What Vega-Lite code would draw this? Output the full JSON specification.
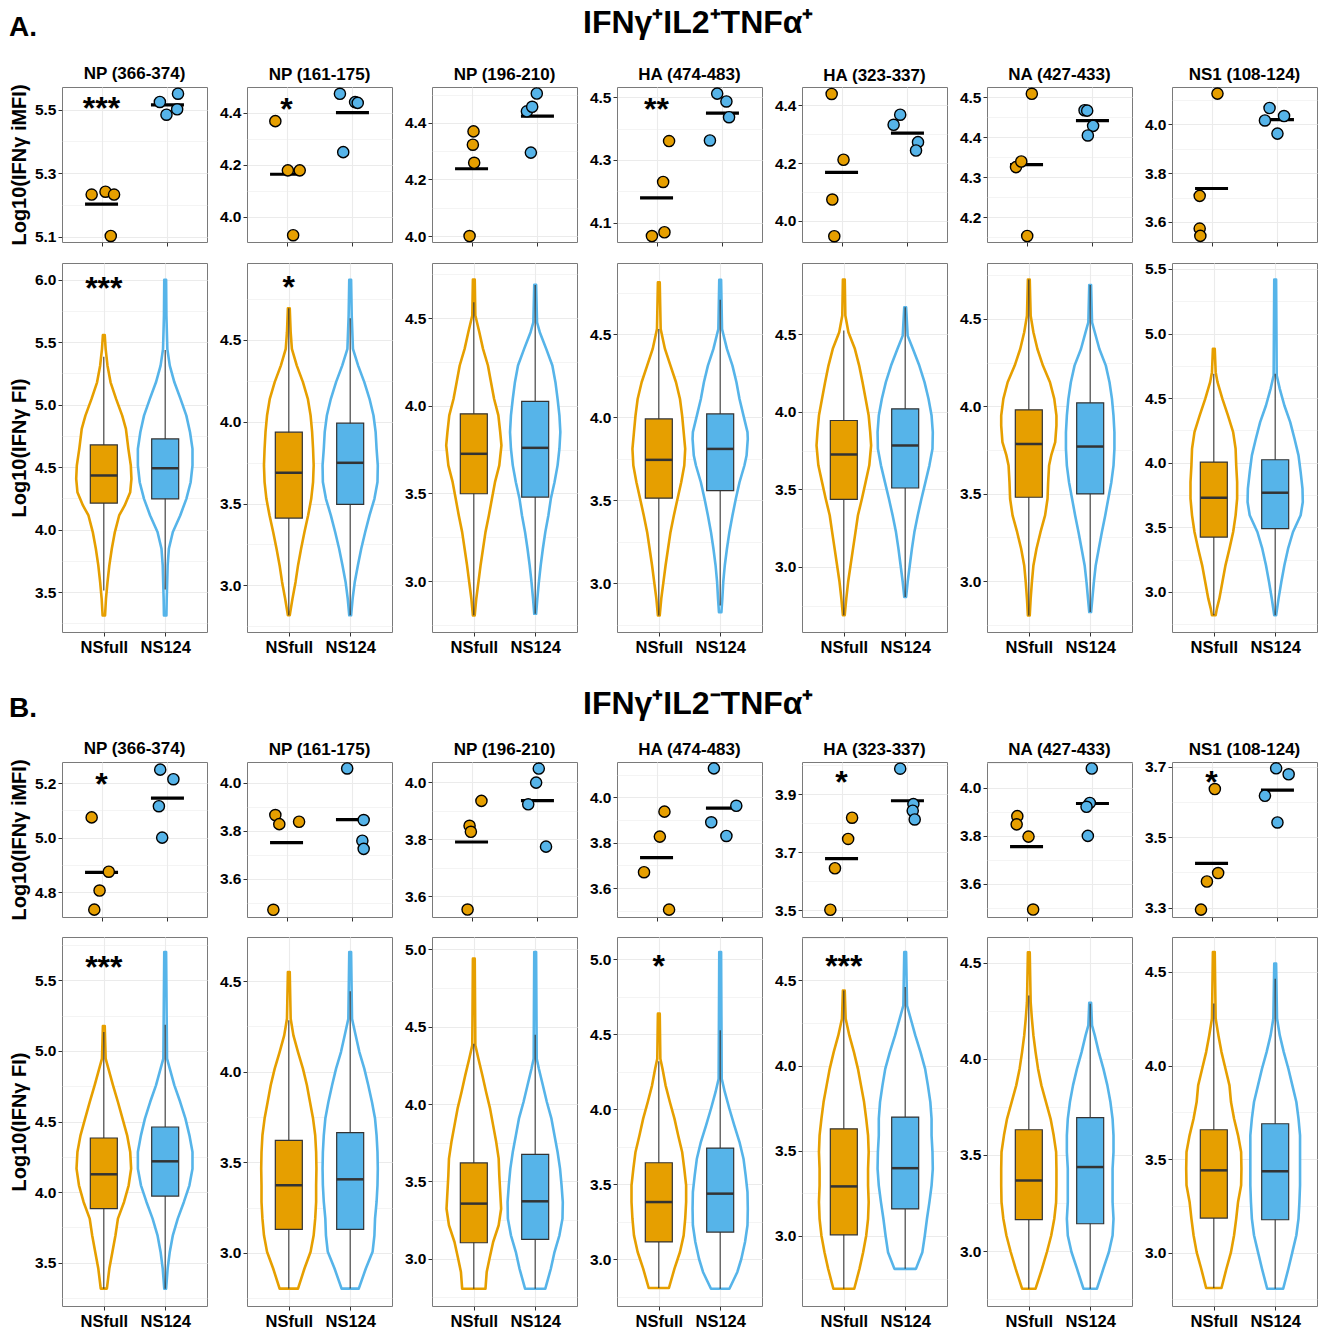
{
"$schema":"https://vega.github.io/schema/vega-lite/v6.json",
"background":"white",
"padding":{"left":8,"top":7,"right":5,"bottom":4},
"config":{
 "font":"Liberation Sans",
 "view":{"stroke":"#7a7a7a","strokeWidth":1},
 "axis":{"labelFontWeight":"bold","labelFontSize":15.5,"labelColor":"black","labelPadding":2,"tickColor":"#333333","tickSize":4,"domain":false,"gridColor":"#EBEBEB","titleFontSize":20,"titleFontWeight":"bold","titleColor":"black","titlePadding":5},
 "axisX":{"labelFontSize":16.5,"labelPadding":3,"gridWidth":1.1},
 "title":{"fontSize":17,"fontWeight":"bold","color":"black","offset":1}
},
"datasets":{
"pts":[
{"p":"A1","g":"NSfull","v":5.233,"j":-0.15},{"p":"A1","g":"NSfull","v":5.242,"j":0.06},{"p":"A1","g":"NSfull","v":5.233,"j":0.19},{"p":"A1","g":"NSfull","v":5.103,"j":0.14},
{"p":"A1","g":"NS124","v":5.524,"j":-0.115},{"p":"A1","g":"NS124","v":5.55,"j":0.16},{"p":"A1","g":"NS124","v":5.484,"j":-0.015},{"p":"A1","g":"NS124","v":5.501,"j":0.147},
{"p":"A2","g":"NSfull","v":4.368,"j":-0.17},{"p":"A2","g":"NSfull","v":4.179,"j":0.02},{"p":"A2","g":"NSfull","v":4.179,"j":0.2},{"p":"A2","g":"NSfull","v":3.93,"j":0.1},
{"p":"A2","g":"NS124","v":4.473,"j":-0.19},{"p":"A2","g":"NS124","v":4.249,"j":-0.14},{"p":"A2","g":"NS124","v":4.441,"j":0.04},{"p":"A2","g":"NS124","v":4.438,"j":0.08},
{"p":"A3","g":"NSfull","v":4.37,"j":0.03},{"p":"A3","g":"NSfull","v":4.323,"j":0.02},{"p":"A3","g":"NSfull","v":4.259,"j":0.04},{"p":"A3","g":"NSfull","v":4.0,"j":-0.03},
{"p":"A3","g":"NS124","v":4.504,"j":-0.01},{"p":"A3","g":"NS124","v":4.441,"j":-0.16},{"p":"A3","g":"NS124","v":4.457,"j":-0.08},{"p":"A3","g":"NS124","v":4.295,"j":-0.1},
{"p":"A4","g":"NSfull","v":4.36,"j":0.19},{"p":"A4","g":"NSfull","v":4.23,"j":0.1},{"p":"A4","g":"NSfull","v":4.07,"j":0.12},{"p":"A4","g":"NSfull","v":4.058,"j":-0.07},
{"p":"A4","g":"NS124","v":4.511,"j":-0.08},{"p":"A4","g":"NS124","v":4.486,"j":0.06},{"p":"A4","g":"NS124","v":4.436,"j":0.1},{"p":"A4","g":"NS124","v":4.362,"j":-0.19},
{"p":"A5","g":"NSfull","v":4.44,"j":-0.15},{"p":"A5","g":"NSfull","v":4.212,"j":0.03},{"p":"A5","g":"NSfull","v":4.074,"j":-0.14},{"p":"A5","g":"NSfull","v":3.947,"j":-0.11},
{"p":"A5","g":"NS124","v":4.368,"j":-0.11},{"p":"A5","g":"NS124","v":4.333,"j":-0.21},{"p":"A5","g":"NS124","v":4.273,"j":0.16},{"p":"A5","g":"NS124","v":4.244,"j":0.13},
{"p":"A6","g":"NSfull","v":4.508,"j":0.08},{"p":"A6","g":"NSfull","v":4.325,"j":-0.16},{"p":"A6","g":"NSfull","v":4.339,"j":-0.08},{"p":"A6","g":"NSfull","v":4.153,"j":0.01},
{"p":"A6","g":"NS124","v":4.467,"j":-0.12},{"p":"A6","g":"NS124","v":4.466,"j":-0.08},{"p":"A6","g":"NS124","v":4.428,"j":0.01},{"p":"A6","g":"NS124","v":4.404,"j":-0.07},
{"p":"A7","g":"NSfull","v":4.126,"j":0.09},{"p":"A7","g":"NSfull","v":3.707,"j":-0.18},{"p":"A7","g":"NSfull","v":3.573,"j":-0.18},{"p":"A7","g":"NSfull","v":3.543,"j":-0.17},
{"p":"A7","g":"NS124","v":4.067,"j":-0.12},{"p":"A7","g":"NS124","v":4.034,"j":0.1},{"p":"A7","g":"NS124","v":4.016,"j":-0.19},{"p":"A7","g":"NS124","v":3.962,"j":0.0},
{"p":"B1","g":"NSfull","v":5.074,"j":-0.15},{"p":"B1","g":"NSfull","v":4.875,"j":0.11},{"p":"B1","g":"NSfull","v":4.806,"j":-0.03},{"p":"B1","g":"NSfull","v":4.736,"j":-0.11},
{"p":"B1","g":"NS124","v":5.249,"j":-0.11},{"p":"B1","g":"NS124","v":5.214,"j":0.09},{"p":"B1","g":"NS124","v":5.115,"j":-0.13},{"p":"B1","g":"NS124","v":5.0,"j":-0.08},
{"p":"B2","g":"NSfull","v":3.866,"j":-0.17},{"p":"B2","g":"NSfull","v":3.828,"j":-0.11},{"p":"B2","g":"NSfull","v":3.838,"j":0.19},{"p":"B2","g":"NSfull","v":3.471,"j":-0.2},
{"p":"B2","g":"NS124","v":4.06,"j":-0.08},{"p":"B2","g":"NS124","v":3.845,"j":0.17},{"p":"B2","g":"NS124","v":3.759,"j":0.15},{"p":"B2","g":"NS124","v":3.725,"j":0.17},
{"p":"B3","g":"NSfull","v":3.934,"j":0.15},{"p":"B3","g":"NSfull","v":3.847,"j":-0.03},{"p":"B3","g":"NSfull","v":3.826,"j":-0.01},{"p":"B3","g":"NSfull","v":3.554,"j":-0.06},
{"p":"B3","g":"NS124","v":4.047,"j":0.02},{"p":"B3","g":"NS124","v":3.998,"j":-0.02},{"p":"B3","g":"NS124","v":3.922,"j":-0.14},{"p":"B3","g":"NS124","v":3.774,"j":0.13},
{"p":"B4","g":"NSfull","v":3.937,"j":0.12},{"p":"B4","g":"NSfull","v":3.827,"j":0.05},{"p":"B4","g":"NSfull","v":3.67,"j":-0.19},{"p":"B4","g":"NSfull","v":3.505,"j":0.19},
{"p":"B4","g":"NS124","v":4.128,"j":-0.13},{"p":"B4","g":"NS124","v":3.963,"j":0.21},{"p":"B4","g":"NS124","v":3.89,"j":-0.17},{"p":"B4","g":"NS124","v":3.83,"j":0.06},
{"p":"B5","g":"NSfull","v":3.819,"j":0.16},{"p":"B5","g":"NSfull","v":3.746,"j":0.1},{"p":"B5","g":"NSfull","v":3.645,"j":-0.1},{"p":"B5","g":"NSfull","v":3.502,"j":-0.17},
{"p":"B5","g":"NS124","v":3.988,"j":-0.11},{"p":"B5","g":"NS124","v":3.866,"j":0.09},{"p":"B5","g":"NS124","v":3.843,"j":0.08},{"p":"B5","g":"NS124","v":3.813,"j":0.11},
{"p":"B6","g":"NSfull","v":3.881,"j":-0.14},{"p":"B6","g":"NSfull","v":3.847,"j":-0.15},{"p":"B6","g":"NSfull","v":3.796,"j":0.03},{"p":"B6","g":"NSfull","v":3.493,"j":0.1},
{"p":"B6","g":"NS124","v":4.079,"j":-0.01},{"p":"B6","g":"NS124","v":3.936,"j":-0.04},{"p":"B6","g":"NS124","v":3.92,"j":-0.09},{"p":"B6","g":"NS124","v":3.799,"j":-0.07},
{"p":"B7","g":"NSfull","v":3.637,"j":0.05},{"p":"B7","g":"NSfull","v":3.398,"j":0.1},{"p":"B7","g":"NSfull","v":3.374,"j":-0.07},{"p":"B7","g":"NSfull","v":3.294,"j":-0.16},
{"p":"B7","g":"NS124","v":3.696,"j":-0.02},{"p":"B7","g":"NS124","v":3.679,"j":0.17},{"p":"B7","g":"NS124","v":3.618,"j":-0.19},{"p":"B7","g":"NS124","v":3.542,"j":0.0}
],
"sig":[
{"p":"A1","g":"NSfull","v":5.529,"t":"***"},{"p":"A2","g":"NSfull","v":4.447,"t":"*"},{"p":"A4","g":"NSfull","v":4.489,"t":"**"},
{"p":"A1v","g":"NSfull","v":6.0,"t":"***"},{"p":"A2v","g":"NSfull","v":4.87,"t":"*"},
{"p":"B1","g":"NSfull","v":5.224,"t":"*"},{"p":"B5","g":"NSfull","v":3.971,"t":"*"},{"p":"B7","g":"NSfull","v":3.681,"t":"*"},
{"p":"B1v","g":"NSfull","v":5.653,"t":"***"},{"p":"B4v","g":"NSfull","v":5.009,"t":"*"},{"p":"B5v","g":"NSfull","v":4.631,"t":"***"}
],
"box":[
{"p":"A1","g":"NSfull","k":"wh","v":3.513,"v2":5.384},{"p":"A1","g":"NSfull","k":"box","v":4.212,"v2":4.678},{"p":"A1","g":"NSfull","k":"med","v":4.433},
{"p":"A1","g":"NS124","k":"wh","v":3.521,"v2":5.438},{"p":"A1","g":"NS124","k":"box","v":4.246,"v2":4.726},{"p":"A1","g":"NS124","k":"med","v":4.491},
{"p":"A2","g":"NSfull","k":"wh","v":2.817,"v2":4.693},{"p":"A2","g":"NSfull","k":"box","v":3.411,"v2":3.936},{"p":"A2","g":"NSfull","k":"med","v":3.688},
{"p":"A2","g":"NS124","k":"wh","v":2.817,"v2":4.632},{"p":"A2","g":"NS124","k":"box","v":3.495,"v2":3.991},{"p":"A2","g":"NS124","k":"med","v":3.749},
{"p":"A3","g":"NSfull","k":"wh","v":2.804,"v2":4.591},{"p":"A3","g":"NSfull","k":"box","v":3.498,"v2":3.954},{"p":"A3","g":"NSfull","k":"med","v":3.726},
{"p":"A3","g":"NS124","k":"wh","v":2.813,"v2":4.69},{"p":"A3","g":"NS124","k":"box","v":3.479,"v2":4.025},{"p":"A3","g":"NS124","k":"med","v":3.76},
{"p":"A4","g":"NSfull","k":"wh","v":2.805,"v2":4.532},{"p":"A4","g":"NSfull","k":"box","v":3.512,"v2":3.99},{"p":"A4","g":"NSfull","k":"med","v":3.743},
{"p":"A4","g":"NS124","k":"wh","v":2.865,"v2":4.709},{"p":"A4","g":"NS124","k":"box","v":3.558,"v2":4.02},{"p":"A4","g":"NS124","k":"med","v":3.809},
{"p":"A5","g":"NSfull","k":"wh","v":2.689,"v2":4.524},{"p":"A5","g":"NSfull","k":"box","v":3.436,"v2":3.944},{"p":"A5","g":"NSfull","k":"med","v":3.725},
{"p":"A5","g":"NS124","k":"wh","v":2.807,"v2":4.674},{"p":"A5","g":"NS124","k":"box","v":3.509,"v2":4.019},{"p":"A5","g":"NS124","k":"med","v":3.783},
{"p":"A6","g":"NSfull","k":"wh","v":2.804,"v2":4.725},{"p":"A6","g":"NSfull","k":"box","v":3.48,"v2":3.98},{"p":"A6","g":"NSfull","k":"med","v":3.785},
{"p":"A6","g":"NS124","k":"wh","v":2.823,"v2":4.694},{"p":"A6","g":"NS124","k":"box","v":3.499,"v2":4.02},{"p":"A6","g":"NS124","k":"med","v":3.77},
{"p":"A7","g":"NSfull","k":"wh","v":2.82,"v2":4.688},{"p":"A7","g":"NSfull","k":"box","v":3.425,"v2":4.005},{"p":"A7","g":"NSfull","k":"med","v":3.729},
{"p":"A7","g":"NS124","k":"wh","v":2.82,"v2":4.688},{"p":"A7","g":"NS124","k":"box","v":3.49,"v2":4.023},{"p":"A7","g":"NS124","k":"med","v":3.768},
{"p":"B1","g":"NSfull","k":"wh","v":3.316,"v2":5.134},{"p":"B1","g":"NSfull","k":"box","v":3.883,"v2":4.383},{"p":"B1","g":"NSfull","k":"med","v":4.126},
{"p":"B1","g":"NS124","k":"wh","v":3.316,"v2":5.186},{"p":"B1","g":"NS124","k":"box","v":3.972,"v2":4.461},{"p":"B1","g":"NS124","k":"med","v":4.218},
{"p":"B2","g":"NSfull","k":"wh","v":2.803,"v2":4.283},{"p":"B2","g":"NSfull","k":"box","v":3.13,"v2":3.621},{"p":"B2","g":"NSfull","k":"med","v":3.373},
{"p":"B2","g":"NS124","k":"wh","v":2.803,"v2":4.443},{"p":"B2","g":"NS124","k":"box","v":3.13,"v2":3.664},{"p":"B2","g":"NS124","k":"med","v":3.406},
{"p":"B3","g":"NSfull","k":"wh","v":2.806,"v2":4.39},{"p":"B3","g":"NSfull","k":"box","v":3.103,"v2":3.619},{"p":"B3","g":"NSfull","k":"med","v":3.356},
{"p":"B3","g":"NS124","k":"wh","v":2.806,"v2":4.448},{"p":"B3","g":"NS124","k":"box","v":3.125,"v2":3.675},{"p":"B3","g":"NS124","k":"med","v":3.371},
{"p":"B4","g":"NSfull","k":"wh","v":2.809,"v2":4.32},{"p":"B4","g":"NSfull","k":"box","v":3.116,"v2":3.644},{"p":"B4","g":"NSfull","k":"med","v":3.382},
{"p":"B4","g":"NS124","k":"wh","v":2.804,"v2":4.527},{"p":"B4","g":"NS124","k":"box","v":3.182,"v2":3.742},{"p":"B4","g":"NS124","k":"med","v":3.438},
{"p":"B5","g":"NSfull","k":"wh","v":2.69,"v2":4.441},{"p":"B5","g":"NSfull","k":"box","v":3.007,"v2":3.629},{"p":"B5","g":"NSfull","k":"med","v":3.291},
{"p":"B5","g":"NS124","k":"wh","v":2.807,"v2":4.461},{"p":"B5","g":"NS124","k":"box","v":3.159,"v2":3.698},{"p":"B5","g":"NS124","k":"med","v":3.398},
{"p":"B6","g":"NSfull","k":"wh","v":2.804,"v2":4.33},{"p":"B6","g":"NSfull","k":"box","v":3.163,"v2":3.631},{"p":"B6","g":"NSfull","k":"med","v":3.367},
{"p":"B6","g":"NS124","k":"wh","v":2.804,"v2":4.287},{"p":"B6","g":"NS124","k":"box","v":3.142,"v2":3.694},{"p":"B6","g":"NS124","k":"med","v":3.437},
{"p":"B7","g":"NSfull","k":"wh","v":2.811,"v2":4.331},{"p":"B7","g":"NSfull","k":"box","v":3.185,"v2":3.657},{"p":"B7","g":"NSfull","k":"med","v":3.44},
{"p":"B7","g":"NS124","k":"wh","v":2.807,"v2":4.464},{"p":"B7","g":"NS124","k":"box","v":3.176,"v2":3.689},{"p":"B7","g":"NS124","k":"med","v":3.435}
],
"vio":[
{"p":"A1","g":"NSfull","v":5.557,"w":0.015},{"p":"A1","g":"NSfull","v":5.445,"w":0.03},{"p":"A1","g":"NSfull","v":5.312,"w":0.06},{"p":"A1","g":"NSfull","v":5.179,"w":0.11},{"p":"A1","g":"NSfull","v":5.046,"w":0.2},{"p":"A1","g":"NSfull","v":4.912,"w":0.3},{"p":"A1","g":"NSfull","v":4.806,"w":0.36},{"p":"A1","g":"NSfull","v":4.646,"w":0.4},{"p":"A1","g":"NSfull","v":4.513,"w":0.44},{"p":"A1","g":"NSfull","v":4.406,"w":0.45},{"p":"A1","g":"NSfull","v":4.299,"w":0.43},{"p":"A1","g":"NSfull","v":4.193,"w":0.34},{"p":"A1","g":"NSfull","v":4.113,"w":0.25},{"p":"A1","g":"NSfull","v":3.98,"w":0.18},{"p":"A1","g":"NSfull","v":3.846,"w":0.13},{"p":"A1","g":"NSfull","v":3.713,"w":0.09},{"p":"A1","g":"NSfull","v":3.579,"w":0.06},{"p":"A1","g":"NSfull","v":3.446,"w":0.035},{"p":"A1","g":"NSfull","v":3.313,"w":0.02},
{"p":"A1","g":"NS124","v":6.0,"w":0.015},{"p":"A1","g":"NS124","v":5.712,"w":0.02},{"p":"A1","g":"NS124","v":5.445,"w":0.035},{"p":"A1","g":"NS124","v":5.312,"w":0.075},{"p":"A1","g":"NS124","v":5.179,"w":0.15},{"p":"A1","g":"NS124","v":5.046,"w":0.25},{"p":"A1","g":"NS124","v":4.912,"w":0.345},{"p":"A1","g":"NS124","v":4.779,"w":0.405},{"p":"A1","g":"NS124","v":4.646,"w":0.445},{"p":"A1","g":"NS124","v":4.513,"w":0.445},{"p":"A1","g":"NS124","v":4.379,"w":0.415},{"p":"A1","g":"NS124","v":4.246,"w":0.345},{"p":"A1","g":"NS124","v":4.113,"w":0.245},{"p":"A1","g":"NS124","v":3.98,"w":0.125},{"p":"A1","g":"NS124","v":3.846,"w":0.06},{"p":"A1","g":"NS124","v":3.713,"w":0.04},{"p":"A1","g":"NS124","v":3.446,"w":0.025},{"p":"A1","g":"NS124","v":3.313,"w":0.02},
{"p":"A2","g":"NSfull","v":4.693,"w":0.015},{"p":"A2","g":"NSfull","v":4.547,"w":0.03},{"p":"A2","g":"NSfull","v":4.445,"w":0.05},{"p":"A2","g":"NSfull","v":4.343,"w":0.13},{"p":"A2","g":"NSfull","v":4.242,"w":0.23},{"p":"A2","g":"NSfull","v":4.14,"w":0.31},{"p":"A2","g":"NSfull","v":4.038,"w":0.355},{"p":"A2","g":"NSfull","v":3.936,"w":0.38},{"p":"A2","g":"NSfull","v":3.835,"w":0.395},{"p":"A2","g":"NSfull","v":3.733,"w":0.405},{"p":"A2","g":"NSfull","v":3.631,"w":0.395},{"p":"A2","g":"NSfull","v":3.529,"w":0.365},{"p":"A2","g":"NSfull","v":3.428,"w":0.315},{"p":"A2","g":"NSfull","v":3.326,"w":0.255},{"p":"A2","g":"NSfull","v":3.224,"w":0.2},{"p":"A2","g":"NSfull","v":3.122,"w":0.15},{"p":"A2","g":"NSfull","v":3.021,"w":0.11},{"p":"A2","g":"NSfull","v":2.919,"w":0.06},{"p":"A2","g":"NSfull","v":2.817,"w":0.015},
{"p":"A2","g":"NS124","v":4.868,"w":0.015},{"p":"A2","g":"NS124","v":4.649,"w":0.025},{"p":"A2","g":"NS124","v":4.445,"w":0.045},{"p":"A2","g":"NS124","v":4.343,"w":0.13},{"p":"A2","g":"NS124","v":4.242,"w":0.23},{"p":"A2","g":"NS124","v":4.14,"w":0.315},{"p":"A2","g":"NS124","v":4.038,"w":0.38},{"p":"A2","g":"NS124","v":3.936,"w":0.415},{"p":"A2","g":"NS124","v":3.835,"w":0.43},{"p":"A2","g":"NS124","v":3.733,"w":0.45},{"p":"A2","g":"NS124","v":3.631,"w":0.445},{"p":"A2","g":"NS124","v":3.529,"w":0.395},{"p":"A2","g":"NS124","v":3.428,"w":0.315},{"p":"A2","g":"NS124","v":3.326,"w":0.245},{"p":"A2","g":"NS124","v":3.224,"w":0.18},{"p":"A2","g":"NS124","v":3.122,"w":0.125},{"p":"A2","g":"NS124","v":3.021,"w":0.075},{"p":"A2","g":"NS124","v":2.919,"w":0.04},{"p":"A2","g":"NS124","v":2.817,"w":0.015},
{"p":"A3","g":"NSfull","v":4.721,"w":0.015},{"p":"A3","g":"NSfull","v":4.515,"w":0.025},{"p":"A3","g":"NSfull","v":4.42,"w":0.09},{"p":"A3","g":"NSfull","v":4.325,"w":0.15},{"p":"A3","g":"NSfull","v":4.23,"w":0.23},{"p":"A3","g":"NSfull","v":4.135,"w":0.28},{"p":"A3","g":"NSfull","v":4.04,"w":0.33},{"p":"A3","g":"NSfull","v":3.945,"w":0.4},{"p":"A3","g":"NSfull","v":3.85,"w":0.43},{"p":"A3","g":"NSfull","v":3.774,"w":0.45},{"p":"A3","g":"NSfull","v":3.66,"w":0.415},{"p":"A3","g":"NSfull","v":3.564,"w":0.345},{"p":"A3","g":"NSfull","v":3.469,"w":0.295},{"p":"A3","g":"NSfull","v":3.374,"w":0.245},{"p":"A3","g":"NSfull","v":3.279,"w":0.19},{"p":"A3","g":"NSfull","v":3.184,"w":0.15},{"p":"A3","g":"NSfull","v":3.089,"w":0.11},{"p":"A3","g":"NSfull","v":2.994,"w":0.075},{"p":"A3","g":"NSfull","v":2.899,"w":0.04},{"p":"A3","g":"NSfull","v":2.804,"w":0.015},
{"p":"A3","g":"NS124","v":4.69,"w":0.015},{"p":"A3","g":"NS124","v":4.477,"w":0.03},{"p":"A3","g":"NS124","v":4.42,"w":0.075},{"p":"A3","g":"NS124","v":4.325,"w":0.18},{"p":"A3","g":"NS124","v":4.23,"w":0.28},{"p":"A3","g":"NS124","v":4.135,"w":0.33},{"p":"A3","g":"NS124","v":4.04,"w":0.365},{"p":"A3","g":"NS124","v":3.945,"w":0.395},{"p":"A3","g":"NS124","v":3.85,"w":0.41},{"p":"A3","g":"NS124","v":3.755,"w":0.395},{"p":"A3","g":"NS124","v":3.66,"w":0.365},{"p":"A3","g":"NS124","v":3.564,"w":0.315},{"p":"A3","g":"NS124","v":3.469,"w":0.255},{"p":"A3","g":"NS124","v":3.374,"w":0.215},{"p":"A3","g":"NS124","v":3.279,"w":0.165},{"p":"A3","g":"NS124","v":3.184,"w":0.125},{"p":"A3","g":"NS124","v":3.089,"w":0.09},{"p":"A3","g":"NS124","v":2.994,"w":0.06},{"p":"A3","g":"NS124","v":2.899,"w":0.035},{"p":"A3","g":"NS124","v":2.813,"w":0.015},
{"p":"A4","g":"NSfull","v":4.813,"w":0.015},{"p":"A4","g":"NSfull","v":4.532,"w":0.03},{"p":"A4","g":"NSfull","v":4.412,"w":0.1},{"p":"A4","g":"NSfull","v":4.311,"w":0.19},{"p":"A4","g":"NSfull","v":4.211,"w":0.28},{"p":"A4","g":"NSfull","v":4.11,"w":0.345},{"p":"A4","g":"NSfull","v":4.01,"w":0.38},{"p":"A4","g":"NSfull","v":3.91,"w":0.405},{"p":"A4","g":"NSfull","v":3.809,"w":0.43},{"p":"A4","g":"NSfull","v":3.709,"w":0.415},{"p":"A4","g":"NSfull","v":3.608,"w":0.365},{"p":"A4","g":"NSfull","v":3.508,"w":0.305},{"p":"A4","g":"NSfull","v":3.408,"w":0.245},{"p":"A4","g":"NSfull","v":3.307,"w":0.19},{"p":"A4","g":"NSfull","v":3.207,"w":0.15},{"p":"A4","g":"NSfull","v":3.106,"w":0.11},{"p":"A4","g":"NSfull","v":3.006,"w":0.075},{"p":"A4","g":"NSfull","v":2.906,"w":0.04},{"p":"A4","g":"NSfull","v":2.805,"w":0.015},
{"p":"A4","g":"NS124","v":4.829,"w":0.015},{"p":"A4","g":"NS124","v":4.532,"w":0.03},{"p":"A4","g":"NS124","v":4.412,"w":0.11},{"p":"A4","g":"NS124","v":4.311,"w":0.2},{"p":"A4","g":"NS124","v":4.211,"w":0.265},{"p":"A4","g":"NS124","v":4.11,"w":0.315},{"p":"A4","g":"NS124","v":4.01,"w":0.38},{"p":"A4","g":"NS124","v":3.91,"w":0.445},{"p":"A4","g":"NS124","v":3.869,"w":0.45},{"p":"A4","g":"NS124","v":3.769,"w":0.43},{"p":"A4","g":"NS124","v":3.709,"w":0.395},{"p":"A4","g":"NS124","v":3.608,"w":0.315},{"p":"A4","g":"NS124","v":3.508,"w":0.255},{"p":"A4","g":"NS124","v":3.408,"w":0.2},{"p":"A4","g":"NS124","v":3.307,"w":0.15},{"p":"A4","g":"NS124","v":3.207,"w":0.11},{"p":"A4","g":"NS124","v":3.106,"w":0.075},{"p":"A4","g":"NS124","v":3.006,"w":0.05},{"p":"A4","g":"NS124","v":2.906,"w":0.035},{"p":"A4","g":"NS124","v":2.825,"w":0.02},
{"p":"A5","g":"NSfull","v":4.852,"w":0.015},{"p":"A5","g":"NSfull","v":4.62,"w":0.025},{"p":"A5","g":"NSfull","v":4.513,"w":0.075},{"p":"A5","g":"NSfull","v":4.406,"w":0.18},{"p":"A5","g":"NSfull","v":4.298,"w":0.25},{"p":"A5","g":"NSfull","v":4.191,"w":0.305},{"p":"A5","g":"NSfull","v":4.084,"w":0.355},{"p":"A5","g":"NSfull","v":3.976,"w":0.405},{"p":"A5","g":"NSfull","v":3.869,"w":0.43},{"p":"A5","g":"NSfull","v":3.783,"w":0.445},{"p":"A5","g":"NSfull","v":3.655,"w":0.415},{"p":"A5","g":"NSfull","v":3.547,"w":0.355},{"p":"A5","g":"NSfull","v":3.44,"w":0.295},{"p":"A5","g":"NSfull","v":3.333,"w":0.23},{"p":"A5","g":"NSfull","v":3.225,"w":0.19},{"p":"A5","g":"NSfull","v":3.118,"w":0.15},{"p":"A5","g":"NSfull","v":3.011,"w":0.11},{"p":"A5","g":"NSfull","v":2.903,"w":0.07},{"p":"A5","g":"NSfull","v":2.796,"w":0.04},{"p":"A5","g":"NSfull","v":2.689,"w":0.015},
{"p":"A5","g":"NS124","v":4.674,"w":0.015},{"p":"A5","g":"NS124","v":4.491,"w":0.04},{"p":"A5","g":"NS124","v":4.406,"w":0.125},{"p":"A5","g":"NS124","v":4.298,"w":0.23},{"p":"A5","g":"NS124","v":4.191,"w":0.315},{"p":"A5","g":"NS124","v":4.084,"w":0.38},{"p":"A5","g":"NS124","v":3.976,"w":0.43},{"p":"A5","g":"NS124","v":3.869,"w":0.45},{"p":"A5","g":"NS124","v":3.762,"w":0.445},{"p":"A5","g":"NS124","v":3.655,"w":0.395},{"p":"A5","g":"NS124","v":3.547,"w":0.33},{"p":"A5","g":"NS124","v":3.44,"w":0.265},{"p":"A5","g":"NS124","v":3.333,"w":0.205},{"p":"A5","g":"NS124","v":3.225,"w":0.15},{"p":"A5","g":"NS124","v":3.118,"w":0.11},{"p":"A5","g":"NS124","v":3.011,"w":0.075},{"p":"A5","g":"NS124","v":2.903,"w":0.04},{"p":"A5","g":"NS124","v":2.807,"w":0.015},
{"p":"A6","g":"NSfull","v":4.725,"w":0.015},{"p":"A6","g":"NSfull","v":4.519,"w":0.03},{"p":"A6","g":"NSfull","v":4.424,"w":0.075},{"p":"A6","g":"NSfull","v":4.328,"w":0.14},{"p":"A6","g":"NSfull","v":4.233,"w":0.23},{"p":"A6","g":"NSfull","v":4.138,"w":0.345},{"p":"A6","g":"NSfull","v":4.043,"w":0.415},{"p":"A6","g":"NSfull","v":3.947,"w":0.45},{"p":"A6","g":"NSfull","v":3.89,"w":0.45},{"p":"A6","g":"NSfull","v":3.795,"w":0.43},{"p":"A6","g":"NSfull","v":3.719,"w":0.365},{"p":"A6","g":"NSfull","v":3.661,"w":0.33},{"p":"A6","g":"NSfull","v":3.566,"w":0.315},{"p":"A6","g":"NSfull","v":3.471,"w":0.305},{"p":"A6","g":"NSfull","v":3.376,"w":0.265},{"p":"A6","g":"NSfull","v":3.28,"w":0.19},{"p":"A6","g":"NSfull","v":3.185,"w":0.125},{"p":"A6","g":"NSfull","v":3.09,"w":0.075},{"p":"A6","g":"NSfull","v":2.994,"w":0.05},{"p":"A6","g":"NSfull","v":2.899,"w":0.03},{"p":"A6","g":"NSfull","v":2.804,"w":0.015},
{"p":"A6","g":"NS124","v":4.694,"w":0.015},{"p":"A6","g":"NS124","v":4.481,"w":0.03},{"p":"A6","g":"NS124","v":4.424,"w":0.075},{"p":"A6","g":"NS124","v":4.328,"w":0.15},{"p":"A6","g":"NS124","v":4.233,"w":0.255},{"p":"A6","g":"NS124","v":4.138,"w":0.315},{"p":"A6","g":"NS124","v":4.043,"w":0.355},{"p":"A6","g":"NS124","v":3.947,"w":0.38},{"p":"A6","g":"NS124","v":3.852,"w":0.395},{"p":"A6","g":"NS124","v":3.757,"w":0.395},{"p":"A6","g":"NS124","v":3.661,"w":0.38},{"p":"A6","g":"NS124","v":3.566,"w":0.345},{"p":"A6","g":"NS124","v":3.471,"w":0.295},{"p":"A6","g":"NS124","v":3.376,"w":0.245},{"p":"A6","g":"NS124","v":3.28,"w":0.19},{"p":"A6","g":"NS124","v":3.185,"w":0.14},{"p":"A6","g":"NS124","v":3.09,"w":0.09},{"p":"A6","g":"NS124","v":2.994,"w":0.06},{"p":"A6","g":"NS124","v":2.899,"w":0.035},{"p":"A6","g":"NS124","v":2.823,"w":0.015},
{"p":"A7","g":"NSfull","v":4.881,"w":0.015},{"p":"A7","g":"NSfull","v":4.701,"w":0.03},{"p":"A7","g":"NSfull","v":4.624,"w":0.06},{"p":"A7","g":"NSfull","v":4.495,"w":0.14},{"p":"A7","g":"NSfull","v":4.366,"w":0.23},{"p":"A7","g":"NSfull","v":4.237,"w":0.315},{"p":"A7","g":"NSfull","v":4.108,"w":0.355},{"p":"A7","g":"NSfull","v":3.979,"w":0.365},{"p":"A7","g":"NSfull","v":3.851,"w":0.38},{"p":"A7","g":"NSfull","v":3.722,"w":0.38},{"p":"A7","g":"NSfull","v":3.593,"w":0.355},{"p":"A7","g":"NSfull","v":3.464,"w":0.315},{"p":"A7","g":"NSfull","v":3.335,"w":0.255},{"p":"A7","g":"NSfull","v":3.206,"w":0.19},{"p":"A7","g":"NSfull","v":3.077,"w":0.14},{"p":"A7","g":"NSfull","v":2.948,"w":0.09},{"p":"A7","g":"NSfull","v":2.871,"w":0.05},{"p":"A7","g":"NSfull","v":2.82,"w":0.03},
{"p":"A7","g":"NS124","v":5.418,"w":0.015},{"p":"A7","g":"NS124","v":4.675,"w":0.025},{"p":"A7","g":"NS124","v":4.572,"w":0.075},{"p":"A7","g":"NS124","v":4.443,"w":0.15},{"p":"A7","g":"NS124","v":4.314,"w":0.245},{"p":"A7","g":"NS124","v":4.186,"w":0.315},{"p":"A7","g":"NS124","v":4.057,"w":0.38},{"p":"A7","g":"NS124","v":3.928,"w":0.415},{"p":"A7","g":"NS124","v":3.799,"w":0.445},{"p":"A7","g":"NS124","v":3.696,"w":0.45},{"p":"A7","g":"NS124","v":3.593,"w":0.415},{"p":"A7","g":"NS124","v":3.464,"w":0.29},{"p":"A7","g":"NS124","v":3.335,"w":0.21},{"p":"A7","g":"NS124","v":3.206,"w":0.15},{"p":"A7","g":"NS124","v":3.077,"w":0.1},{"p":"A7","g":"NS124","v":2.948,"w":0.055},{"p":"A7","g":"NS124","v":2.82,"w":0.015},
{"p":"B1","g":"NSfull","v":5.177,"w":0.015},{"p":"B1","g":"NSfull","v":4.945,"w":0.03},{"p":"B1","g":"NSfull","v":4.874,"w":0.075},{"p":"B1","g":"NSfull","v":4.756,"w":0.15},{"p":"B1","g":"NSfull","v":4.638,"w":0.23},{"p":"B1","g":"NSfull","v":4.52,"w":0.305},{"p":"B1","g":"NSfull","v":4.402,"w":0.38},{"p":"B1","g":"NSfull","v":4.284,"w":0.43},{"p":"B1","g":"NSfull","v":4.166,"w":0.445},{"p":"B1","g":"NSfull","v":4.048,"w":0.405},{"p":"B1","g":"NSfull","v":3.93,"w":0.33},{"p":"B1","g":"NSfull","v":3.812,"w":0.23},{"p":"B1","g":"NSfull","v":3.694,"w":0.19},{"p":"B1","g":"NSfull","v":3.576,"w":0.14},{"p":"B1","g":"NSfull","v":3.458,"w":0.09},{"p":"B1","g":"NSfull","v":3.316,"w":0.05},
{"p":"B1","g":"NS124","v":5.701,"w":0.015},{"p":"B1","g":"NS124","v":4.945,"w":0.03},{"p":"B1","g":"NS124","v":4.874,"w":0.075},{"p":"B1","g":"NS124","v":4.756,"w":0.15},{"p":"B1","g":"NS124","v":4.638,"w":0.245},{"p":"B1","g":"NS124","v":4.52,"w":0.33},{"p":"B1","g":"NS124","v":4.402,"w":0.395},{"p":"B1","g":"NS124","v":4.284,"w":0.445},{"p":"B1","g":"NS124","v":4.166,"w":0.445},{"p":"B1","g":"NS124","v":4.048,"w":0.395},{"p":"B1","g":"NS124","v":3.93,"w":0.305},{"p":"B1","g":"NS124","v":3.812,"w":0.205},{"p":"B1","g":"NS124","v":3.694,"w":0.125},{"p":"B1","g":"NS124","v":3.576,"w":0.075},{"p":"B1","g":"NS124","v":3.458,"w":0.04},{"p":"B1","g":"NS124","v":3.316,"w":0.015},
{"p":"B2","g":"NSfull","v":4.55,"w":0.015},{"p":"B2","g":"NSfull","v":4.292,"w":0.03},{"p":"B2","g":"NSfull","v":4.2,"w":0.075},{"p":"B2","g":"NSfull","v":4.108,"w":0.15},{"p":"B2","g":"NSfull","v":4.017,"w":0.23},{"p":"B2","g":"NSfull","v":3.925,"w":0.295},{"p":"B2","g":"NSfull","v":3.833,"w":0.345},{"p":"B2","g":"NSfull","v":3.741,"w":0.395},{"p":"B2","g":"NSfull","v":3.649,"w":0.43},{"p":"B2","g":"NSfull","v":3.557,"w":0.445},{"p":"B2","g":"NSfull","v":3.465,"w":0.45},{"p":"B2","g":"NSfull","v":3.373,"w":0.445},{"p":"B2","g":"NSfull","v":3.281,"w":0.445},{"p":"B2","g":"NSfull","v":3.189,"w":0.43},{"p":"B2","g":"NSfull","v":3.097,"w":0.405},{"p":"B2","g":"NSfull","v":3.006,"w":0.355},{"p":"B2","g":"NSfull","v":2.914,"w":0.255},{"p":"B2","g":"NSfull","v":2.803,"w":0.15},
{"p":"B2","g":"NS124","v":4.66,"w":0.015},{"p":"B2","g":"NS124","v":4.292,"w":0.03},{"p":"B2","g":"NS124","v":4.2,"w":0.09},{"p":"B2","g":"NS124","v":4.108,"w":0.15},{"p":"B2","g":"NS124","v":4.017,"w":0.23},{"p":"B2","g":"NS124","v":3.925,"w":0.295},{"p":"B2","g":"NS124","v":3.833,"w":0.355},{"p":"B2","g":"NS124","v":3.741,"w":0.405},{"p":"B2","g":"NS124","v":3.649,"w":0.43},{"p":"B2","g":"NS124","v":3.557,"w":0.445},{"p":"B2","g":"NS124","v":3.465,"w":0.45},{"p":"B2","g":"NS124","v":3.373,"w":0.445},{"p":"B2","g":"NS124","v":3.281,"w":0.43},{"p":"B2","g":"NS124","v":3.189,"w":0.405},{"p":"B2","g":"NS124","v":3.097,"w":0.395},{"p":"B2","g":"NS124","v":3.006,"w":0.365},{"p":"B2","g":"NS124","v":2.914,"w":0.255},{"p":"B2","g":"NS124","v":2.803,"w":0.14},
{"p":"B3","g":"NSfull","v":4.94,"w":0.015},{"p":"B3","g":"NSfull","v":4.379,"w":0.025},{"p":"B3","g":"NSfull","v":4.293,"w":0.075},{"p":"B3","g":"NSfull","v":4.185,"w":0.14},{"p":"B3","g":"NSfull","v":4.078,"w":0.2},{"p":"B3","g":"NSfull","v":3.97,"w":0.265},{"p":"B3","g":"NSfull","v":3.862,"w":0.315},{"p":"B3","g":"NSfull","v":3.754,"w":0.365},{"p":"B3","g":"NSfull","v":3.647,"w":0.405},{"p":"B3","g":"NSfull","v":3.539,"w":0.415},{"p":"B3","g":"NSfull","v":3.431,"w":0.43},{"p":"B3","g":"NSfull","v":3.323,"w":0.445},{"p":"B3","g":"NSfull","v":3.216,"w":0.405},{"p":"B3","g":"NSfull","v":3.108,"w":0.315},{"p":"B3","g":"NSfull","v":3.0,"w":0.255},{"p":"B3","g":"NSfull","v":2.914,"w":0.21},{"p":"B3","g":"NSfull","v":2.806,"w":0.19},
{"p":"B3","g":"NS124","v":4.983,"w":0.015},{"p":"B3","g":"NS124","v":4.293,"w":0.025},{"p":"B3","g":"NS124","v":4.228,"w":0.06},{"p":"B3","g":"NS124","v":4.121,"w":0.125},{"p":"B3","g":"NS124","v":4.013,"w":0.19},{"p":"B3","g":"NS124","v":3.905,"w":0.265},{"p":"B3","g":"NS124","v":3.797,"w":0.315},{"p":"B3","g":"NS124","v":3.69,"w":0.365},{"p":"B3","g":"NS124","v":3.582,"w":0.405},{"p":"B3","g":"NS124","v":3.474,"w":0.43},{"p":"B3","g":"NS124","v":3.366,"w":0.45},{"p":"B3","g":"NS124","v":3.259,"w":0.445},{"p":"B3","g":"NS124","v":3.151,"w":0.395},{"p":"B3","g":"NS124","v":3.043,"w":0.315},{"p":"B3","g":"NS124","v":2.935,"w":0.255},{"p":"B3","g":"NS124","v":2.806,"w":0.165},
{"p":"B4","g":"NSfull","v":4.638,"w":0.015},{"p":"B4","g":"NSfull","v":4.338,"w":0.025},{"p":"B4","g":"NSfull","v":4.271,"w":0.06},{"p":"B4","g":"NSfull","v":4.16,"w":0.11},{"p":"B4","g":"NSfull","v":4.049,"w":0.18},{"p":"B4","g":"NSfull","v":3.938,"w":0.255},{"p":"B4","g":"NSfull","v":3.827,"w":0.315},{"p":"B4","g":"NSfull","v":3.716,"w":0.38},{"p":"B4","g":"NSfull","v":3.604,"w":0.415},{"p":"B4","g":"NSfull","v":3.493,"w":0.445},{"p":"B4","g":"NSfull","v":3.382,"w":0.445},{"p":"B4","g":"NSfull","v":3.271,"w":0.43},{"p":"B4","g":"NSfull","v":3.16,"w":0.405},{"p":"B4","g":"NSfull","v":3.049,"w":0.345},{"p":"B4","g":"NSfull","v":2.938,"w":0.255},{"p":"B4","g":"NSfull","v":2.809,"w":0.165},
{"p":"B4","g":"NS124","v":5.049,"w":0.015},{"p":"B4","g":"NS124","v":4.204,"w":0.025},{"p":"B4","g":"NS124","v":4.116,"w":0.075},{"p":"B4","g":"NS124","v":4.004,"w":0.15},{"p":"B4","g":"NS124","v":3.893,"w":0.23},{"p":"B4","g":"NS124","v":3.782,"w":0.315},{"p":"B4","g":"NS124","v":3.671,"w":0.38},{"p":"B4","g":"NS124","v":3.56,"w":0.415},{"p":"B4","g":"NS124","v":3.449,"w":0.445},{"p":"B4","g":"NS124","v":3.338,"w":0.45},{"p":"B4","g":"NS124","v":3.227,"w":0.445},{"p":"B4","g":"NS124","v":3.116,"w":0.405},{"p":"B4","g":"NS124","v":3.004,"w":0.345},{"p":"B4","g":"NS124","v":2.916,"w":0.28},{"p":"B4","g":"NS124","v":2.804,"w":0.15},
{"p":"B5","g":"NSfull","v":4.441,"w":0.015},{"p":"B5","g":"NSfull","v":4.275,"w":0.03},{"p":"B5","g":"NSfull","v":4.177,"w":0.09},{"p":"B5","g":"NSfull","v":4.079,"w":0.165},{"p":"B5","g":"NSfull","v":3.981,"w":0.23},{"p":"B5","g":"NSfull","v":3.884,"w":0.28},{"p":"B5","g":"NSfull","v":3.786,"w":0.33},{"p":"B5","g":"NSfull","v":3.688,"w":0.365},{"p":"B5","g":"NSfull","v":3.59,"w":0.395},{"p":"B5","g":"NSfull","v":3.492,"w":0.405},{"p":"B5","g":"NSfull","v":3.394,"w":0.395},{"p":"B5","g":"NSfull","v":3.296,"w":0.395},{"p":"B5","g":"NSfull","v":3.199,"w":0.405},{"p":"B5","g":"NSfull","v":3.101,"w":0.395},{"p":"B5","g":"NSfull","v":3.003,"w":0.365},{"p":"B5","g":"NSfull","v":2.905,"w":0.315},{"p":"B5","g":"NSfull","v":2.807,"w":0.255},{"p":"B5","g":"NSfull","v":2.69,"w":0.17},
{"p":"B5","g":"NS124","v":4.666,"w":0.015},{"p":"B5","g":"NS124","v":4.353,"w":0.03},{"p":"B5","g":"NS124","v":4.275,"w":0.09},{"p":"B5","g":"NS124","v":4.177,"w":0.165},{"p":"B5","g":"NS124","v":4.079,"w":0.25},{"p":"B5","g":"NS124","v":3.981,"w":0.325},{"p":"B5","g":"NS124","v":3.884,"w":0.37},{"p":"B5","g":"NS124","v":3.786,"w":0.41},{"p":"B5","g":"NS124","v":3.688,"w":0.43},{"p":"B5","g":"NS124","v":3.59,"w":0.43},{"p":"B5","g":"NS124","v":3.492,"w":0.445},{"p":"B5","g":"NS124","v":3.394,"w":0.45},{"p":"B5","g":"NS124","v":3.296,"w":0.43},{"p":"B5","g":"NS124","v":3.199,"w":0.395},{"p":"B5","g":"NS124","v":3.101,"w":0.355},{"p":"B5","g":"NS124","v":3.003,"w":0.32},{"p":"B5","g":"NS124","v":2.905,"w":0.28},{"p":"B5","g":"NS124","v":2.807,"w":0.175},
{"p":"B6","g":"NSfull","v":4.555,"w":0.015},{"p":"B6","g":"NSfull","v":4.295,"w":0.03},{"p":"B6","g":"NSfull","v":4.209,"w":0.05},{"p":"B6","g":"NSfull","v":4.122,"w":0.075},{"p":"B6","g":"NSfull","v":4.035,"w":0.11},{"p":"B6","g":"NSfull","v":3.949,"w":0.15},{"p":"B6","g":"NSfull","v":3.862,"w":0.205},{"p":"B6","g":"NSfull","v":3.775,"w":0.28},{"p":"B6","g":"NSfull","v":3.688,"w":0.355},{"p":"B6","g":"NSfull","v":3.602,"w":0.405},{"p":"B6","g":"NSfull","v":3.515,"w":0.445},{"p":"B6","g":"NSfull","v":3.428,"w":0.45},{"p":"B6","g":"NSfull","v":3.341,"w":0.45},{"p":"B6","g":"NSfull","v":3.255,"w":0.445},{"p":"B6","g":"NSfull","v":3.168,"w":0.415},{"p":"B6","g":"NSfull","v":3.081,"w":0.365},{"p":"B6","g":"NSfull","v":2.995,"w":0.295},{"p":"B6","g":"NSfull","v":2.908,"w":0.215},{"p":"B6","g":"NSfull","v":2.804,"w":0.11},
{"p":"B6","g":"NS124","v":4.292,"w":0.015},{"p":"B6","g":"NS124","v":4.174,"w":0.03},{"p":"B6","g":"NS124","v":4.122,"w":0.075},{"p":"B6","g":"NS124","v":4.035,"w":0.14},{"p":"B6","g":"NS124","v":3.949,"w":0.215},{"p":"B6","g":"NS124","v":3.862,"w":0.28},{"p":"B6","g":"NS124","v":3.775,"w":0.33},{"p":"B6","g":"NS124","v":3.688,"w":0.365},{"p":"B6","g":"NS124","v":3.602,"w":0.38},{"p":"B6","g":"NS124","v":3.515,"w":0.38},{"p":"B6","g":"NS124","v":3.428,"w":0.365},{"p":"B6","g":"NS124","v":3.341,"w":0.365},{"p":"B6","g":"NS124","v":3.255,"w":0.365},{"p":"B6","g":"NS124","v":3.168,"w":0.38},{"p":"B6","g":"NS124","v":3.081,"w":0.365},{"p":"B6","g":"NS124","v":2.995,"w":0.305},{"p":"B6","g":"NS124","v":2.908,"w":0.215},{"p":"B6","g":"NS124","v":2.804,"w":0.11},
{"p":"B7","g":"NSfull","v":4.607,"w":0.015},{"p":"B7","g":"NSfull","v":4.251,"w":0.03},{"p":"B7","g":"NSfull","v":4.161,"w":0.075},{"p":"B7","g":"NSfull","v":4.072,"w":0.125},{"p":"B7","g":"NSfull","v":3.983,"w":0.19},{"p":"B7","g":"NSfull","v":3.894,"w":0.255},{"p":"B7","g":"NSfull","v":3.805,"w":0.28},{"p":"B7","g":"NSfull","v":3.716,"w":0.33},{"p":"B7","g":"NSfull","v":3.627,"w":0.395},{"p":"B7","g":"NSfull","v":3.538,"w":0.445},{"p":"B7","g":"NSfull","v":3.449,"w":0.45},{"p":"B7","g":"NSfull","v":3.36,"w":0.445},{"p":"B7","g":"NSfull","v":3.271,"w":0.395},{"p":"B7","g":"NSfull","v":3.182,"w":0.365},{"p":"B7","g":"NSfull","v":3.093,"w":0.33},{"p":"B7","g":"NSfull","v":3.003,"w":0.28},{"p":"B7","g":"NSfull","v":2.914,"w":0.205},{"p":"B7","g":"NSfull","v":2.811,"w":0.125},
{"p":"B7","g":"NS124","v":4.545,"w":0.015},{"p":"B7","g":"NS124","v":4.251,"w":0.03},{"p":"B7","g":"NS124","v":4.161,"w":0.075},{"p":"B7","g":"NS124","v":4.072,"w":0.14},{"p":"B7","g":"NS124","v":3.983,"w":0.215},{"p":"B7","g":"NS124","v":3.894,"w":0.28},{"p":"B7","g":"NS124","v":3.805,"w":0.345},{"p":"B7","g":"NS124","v":3.716,"w":0.38},{"p":"B7","g":"NS124","v":3.627,"w":0.405},{"p":"B7","g":"NS124","v":3.538,"w":0.405},{"p":"B7","g":"NS124","v":3.449,"w":0.405},{"p":"B7","g":"NS124","v":3.36,"w":0.405},{"p":"B7","g":"NS124","v":3.271,"w":0.395},{"p":"B7","g":"NS124","v":3.182,"w":0.38},{"p":"B7","g":"NS124","v":3.093,"w":0.345},{"p":"B7","g":"NS124","v":3.003,"w":0.28},{"p":"B7","g":"NS124","v":2.914,"w":0.215},{"p":"B7","g":"NS124","v":2.807,"w":0.13}
]
},
"spacing":32,
"vconcat":[
{"title":{"text":"A.","anchor":"start","fontSize":28,"offset":-35},
 "vconcat":[{"title":{"text":"IFNγ⁺IL2⁺TNFα⁺","fontSize":32,"anchor":"middle","dx":35,"offset":24},
 "spacing":14,
 "vconcat":[
 {"hconcat":[
  {"width":145,"height":155,"title":"NP (366-374)","encoding":{"x":{"field":"x","type":"quantitative","title":null,"scale":{"domain":[0.4,2.6],"nice":false},"axis":{"values":[1,2],"labels":false}},"y":{"field":"v","type":"quantitative","title":"Log10(IFNγ iMFI)","scale":{"domain":[5.084,5.571],"nice":false},"axis":{"values":[5.1,5.2,5.3,5.4,5.5],"labelExpr":"round(datum.value*10)%2==1?format(datum.value,'.1f'):''","tickOpacity":{"condition":{"test":"round(datum.value*10)%2==1","value":1},"value":0},"gridWidth":{"condition":{"test":"round(datum.value*10)%2==1","value":1.1},"value":0.55}}}},
   "layer":[
   {"data":{"name":"pts"},"transform":[{"filter":"datum.p=='A1'"},{"aggregate":[{"op":"mean","field":"v","as":"v"}],"groupby":["g"]},{"calculate":"datum.g=='NSfull'?1:2","as":"x"}],"mark":{"type":"tick","orient":"horizontal","size":33,"thickness":3.2,"color":"black","opacity":1}},
   {"data":{"name":"pts"},"transform":[{"filter":"datum.p=='A1'"},{"calculate":"(datum.g=='NSfull'?1:2)+datum.j","as":"x"}],"mark":{"type":"circle","size":125,"stroke":"black","strokeWidth":1.4,"opacity":1},"encoding":{"fill":{"field":"g","type":"nominal","scale":{"domain":["NSfull","NS124"],"range":["#E69F00","#56B4E9"]},"legend":null}}},
   {"data":{"name":"sig"},"transform":[{"filter":"datum.p=='A1'"},{"calculate":"datum.g=='NSfull'?1:2","as":"x"}],"mark":{"type":"text","fontSize":32,"fontWeight":"bold","baseline":"alphabetic","dy":19,"color":"black"},"encoding":{"text":{"field":"t"}}}
  ]},
  {"width":145,"height":155,"title":"NP (161-175)","encoding":{"x":{"field":"x","type":"quantitative","title":null,"scale":{"domain":[0.4,2.6],"nice":false},"axis":{"values":[1,2],"labels":false}},"y":{"field":"v","type":"quantitative","title":null,"scale":{"domain":[3.904,4.499],"nice":false},"axis":{"values":[4.0,4.1,4.2,4.3,4.4],"labelExpr":"round(datum.value*10)%2==0?format(datum.value,'.1f'):''","tickOpacity":{"condition":{"test":"round(datum.value*10)%2==0","value":1},"value":0},"gridWidth":{"condition":{"test":"round(datum.value*10)%2==0","value":1.1},"value":0.55}}}},
   "layer":[
   {"data":{"name":"pts"},"transform":[{"filter":"datum.p=='A2'"},{"aggregate":[{"op":"mean","field":"v","as":"v"}],"groupby":["g"]},{"calculate":"datum.g=='NSfull'?1:2","as":"x"}],"mark":{"type":"tick","orient":"horizontal","size":33,"thickness":3.2,"color":"black","opacity":1}},
   {"data":{"name":"pts"},"transform":[{"filter":"datum.p=='A2'"},{"calculate":"(datum.g=='NSfull'?1:2)+datum.j","as":"x"}],"mark":{"type":"circle","size":125,"stroke":"black","strokeWidth":1.4,"opacity":1},"encoding":{"fill":{"field":"g","type":"nominal","scale":{"domain":["NSfull","NS124"],"range":["#E69F00","#56B4E9"]},"legend":null}}},
   {"data":{"name":"sig"},"transform":[{"filter":"datum.p=='A2'"},{"calculate":"datum.g=='NSfull'?1:2","as":"x"}],"mark":{"type":"text","fontSize":32,"fontWeight":"bold","baseline":"alphabetic","dy":19,"color":"black"},"encoding":{"text":{"field":"t"}}}
  ]},
  {"width":145,"height":155,"title":"NP (196-210)","encoding":{"x":{"field":"x","type":"quantitative","title":null,"scale":{"domain":[0.4,2.6],"nice":false},"axis":{"values":[1,2],"labels":false}},"y":{"field":"v","type":"quantitative","title":null,"scale":{"domain":[3.979,4.527],"nice":false},"axis":{"values":[4.0,4.1,4.2,4.3,4.4,4.5],"labelExpr":"round(datum.value*10)%2==0?format(datum.value,'.1f'):''","tickOpacity":{"condition":{"test":"round(datum.value*10)%2==0","value":1},"value":0},"gridWidth":{"condition":{"test":"round(datum.value*10)%2==0","value":1.1},"value":0.55}}}},
   "layer":[
   {"data":{"name":"pts"},"transform":[{"filter":"datum.p=='A3'"},{"aggregate":[{"op":"mean","field":"v","as":"v"}],"groupby":["g"]},{"calculate":"datum.g=='NSfull'?1:2","as":"x"}],"mark":{"type":"tick","orient":"horizontal","size":33,"thickness":3.2,"color":"black","opacity":1}},
   {"data":{"name":"pts"},"transform":[{"filter":"datum.p=='A3'"},{"calculate":"(datum.g=='NSfull'?1:2)+datum.j","as":"x"}],"mark":{"type":"circle","size":125,"stroke":"black","strokeWidth":1.4,"opacity":1},"encoding":{"fill":{"field":"g","type":"nominal","scale":{"domain":["NSfull","NS124"],"range":["#E69F00","#56B4E9"]},"legend":null}}}
  ]},
  {"width":145,"height":155,"title":"HA (474-483)","encoding":{"x":{"field":"x","type":"quantitative","title":null,"scale":{"domain":[0.4,2.6],"nice":false},"axis":{"values":[1,2],"labels":false}},"y":{"field":"v","type":"quantitative","title":null,"scale":{"domain":[4.039,4.532],"nice":false},"axis":{"values":[4.1,4.2,4.3,4.4,4.5],"labelExpr":"round(datum.value*10)%2==1?format(datum.value,'.1f'):''","tickOpacity":{"condition":{"test":"round(datum.value*10)%2==1","value":1},"value":0},"gridWidth":{"condition":{"test":"round(datum.value*10)%2==1","value":1.1},"value":0.55}}}},
   "layer":[
   {"data":{"name":"pts"},"transform":[{"filter":"datum.p=='A4'"},{"aggregate":[{"op":"mean","field":"v","as":"v"}],"groupby":["g"]},{"calculate":"datum.g=='NSfull'?1:2","as":"x"}],"mark":{"type":"tick","orient":"horizontal","size":33,"thickness":3.2,"color":"black","opacity":1}},
   {"data":{"name":"pts"},"transform":[{"filter":"datum.p=='A4'"},{"calculate":"(datum.g=='NSfull'?1:2)+datum.j","as":"x"}],"mark":{"type":"circle","size":125,"stroke":"black","strokeWidth":1.4,"opacity":1},"encoding":{"fill":{"field":"g","type":"nominal","scale":{"domain":["NSfull","NS124"],"range":["#E69F00","#56B4E9"]},"legend":null}}},
   {"data":{"name":"sig"},"transform":[{"filter":"datum.p=='A4'"},{"calculate":"datum.g=='NSfull'?1:2","as":"x"}],"mark":{"type":"text","fontSize":32,"fontWeight":"bold","baseline":"alphabetic","dy":19,"color":"black"},"encoding":{"text":{"field":"t"}}}
  ]},
  {"width":145,"height":155,"title":"HA (323-337)","encoding":{"x":{"field":"x","type":"quantitative","title":null,"scale":{"domain":[0.4,2.6],"nice":false},"axis":{"values":[1,2],"labels":false}},"y":{"field":"v","type":"quantitative","title":null,"scale":{"domain":[3.927,4.464],"nice":false},"axis":{"values":[4.0,4.1,4.2,4.3,4.4],"labelExpr":"round(datum.value*10)%2==0?format(datum.value,'.1f'):''","tickOpacity":{"condition":{"test":"round(datum.value*10)%2==0","value":1},"value":0},"gridWidth":{"condition":{"test":"round(datum.value*10)%2==0","value":1.1},"value":0.55}}}},
   "layer":[
   {"data":{"name":"pts"},"transform":[{"filter":"datum.p=='A5'"},{"aggregate":[{"op":"mean","field":"v","as":"v"}],"groupby":["g"]},{"calculate":"datum.g=='NSfull'?1:2","as":"x"}],"mark":{"type":"tick","orient":"horizontal","size":33,"thickness":3.2,"color":"black","opacity":1}},
   {"data":{"name":"pts"},"transform":[{"filter":"datum.p=='A5'"},{"calculate":"(datum.g=='NSfull'?1:2)+datum.j","as":"x"}],"mark":{"type":"circle","size":125,"stroke":"black","strokeWidth":1.4,"opacity":1},"encoding":{"fill":{"field":"g","type":"nominal","scale":{"domain":["NSfull","NS124"],"range":["#E69F00","#56B4E9"]},"legend":null}}}
  ]},
  {"width":145,"height":155,"title":"NA (427-433)","encoding":{"x":{"field":"x","type":"quantitative","title":null,"scale":{"domain":[0.4,2.6],"nice":false},"axis":{"values":[1,2],"labels":false}},"y":{"field":"v","type":"quantitative","title":null,"scale":{"domain":[4.138,4.525],"nice":false},"axis":{"values":[4.15,4.2,4.25,4.3,4.35,4.4,4.45,4.5],"labelExpr":"round(datum.value*20)%2==0?format(datum.value,'.1f'):''","tickOpacity":{"condition":{"test":"round(datum.value*20)%2==0","value":1},"value":0},"gridWidth":{"condition":{"test":"round(datum.value*20)%2==0","value":1.1},"value":0.55}}}},
   "layer":[
   {"data":{"name":"pts"},"transform":[{"filter":"datum.p=='A6'"},{"aggregate":[{"op":"mean","field":"v","as":"v"}],"groupby":["g"]},{"calculate":"datum.g=='NSfull'?1:2","as":"x"}],"mark":{"type":"tick","orient":"horizontal","size":33,"thickness":3.2,"color":"black","opacity":1}},
   {"data":{"name":"pts"},"transform":[{"filter":"datum.p=='A6'"},{"calculate":"(datum.g=='NSfull'?1:2)+datum.j","as":"x"}],"mark":{"type":"circle","size":125,"stroke":"black","strokeWidth":1.4,"opacity":1},"encoding":{"fill":{"field":"g","type":"nominal","scale":{"domain":["NSfull","NS124"],"range":["#E69F00","#56B4E9"]},"legend":null}}}
  ]},
  {"width":145,"height":155,"title":"NS1 (108-124)","encoding":{"x":{"field":"x","type":"quantitative","title":null,"scale":{"domain":[0.4,2.6],"nice":false},"axis":{"values":[1,2],"labels":false}},"y":{"field":"v","type":"quantitative","title":null,"scale":{"domain":[3.518,4.153],"nice":false},"axis":{"values":[3.6,3.7,3.8,3.9,4.0,4.1],"labelExpr":"round(datum.value*10)%2==0?format(datum.value,'.1f'):''","tickOpacity":{"condition":{"test":"round(datum.value*10)%2==0","value":1},"value":0},"gridWidth":{"condition":{"test":"round(datum.value*10)%2==0","value":1.1},"value":0.55}}}},
   "layer":[
   {"data":{"name":"pts"},"transform":[{"filter":"datum.p=='A7'"},{"aggregate":[{"op":"mean","field":"v","as":"v"}],"groupby":["g"]},{"calculate":"datum.g=='NSfull'?1:2","as":"x"}],"mark":{"type":"tick","orient":"horizontal","size":33,"thickness":3.2,"color":"black","opacity":1}},
   {"data":{"name":"pts"},"transform":[{"filter":"datum.p=='A7'"},{"calculate":"(datum.g=='NSfull'?1:2)+datum.j","as":"x"}],"mark":{"type":"circle","size":125,"stroke":"black","strokeWidth":1.4,"opacity":1},"encoding":{"fill":{"field":"g","type":"nominal","scale":{"domain":["NSfull","NS124"],"range":["#E69F00","#56B4E9"]},"legend":null}}}
  ]}
 ],"spacing":40,"bounds":"flush"},
 {"hconcat":[
  {"width":145,"height":369,"encoding":{"x":{"field":"x","type":"quantitative","title":null,"scale":{"domain":[0.4,2.6],"nice":false},"axis":{"values":[1,2],"labelExpr":"datum.value==1?'NSfull':'NS124'"}},"y":{"field":"v","type":"quantitative","title":"Log10(IFNγ FI)","scale":{"domain":[3.18,6.134],"nice":false},"axis":{"values":[3.25,3.5,3.75,4,4.25,4.5,4.75,5,5.25,5.5,5.75,6],"labelExpr":"round(datum.value*4)%2==0?format(datum.value,'.1f'):''","tickOpacity":{"condition":{"test":"round(datum.value*4)%2==0","value":1},"value":0},"gridWidth":{"condition":{"test":"round(datum.value*4)%2==0","value":1.1},"value":0.55}}}},
   "layer":[
   {"data":{"name":"vio"},"transform":[{"filter":"datum.p=='A1'"},{"calculate":"(datum.g=='NSfull'?1:2)-datum.w","as":"x"},{"calculate":"(datum.g=='NSfull'?1:2)+datum.w","as":"x2"}],"mark":{"type":"area","orient":"horizontal","fill":"white","opacity":1,"strokeWidth":2.6,"strokeJoin":"round"},"encoding":{"x2":{"field":"x2"},"stroke":{"field":"g","type":"nominal","scale":{"domain":["NSfull","NS124"],"range":["#E69F00","#56B4E9"]},"legend":null}}},
   {"data":{"name":"box"},"transform":[{"filter":"datum.p=='A1'&&datum.k=='wh'"},{"calculate":"datum.g=='NSfull'?1:2","as":"x"}],"mark":{"type":"rule","color":"#333333","strokeWidth":1.1},"encoding":{"y2":{"field":"v2"}}},
   {"data":{"name":"box"},"transform":[{"filter":"datum.p=='A1'&&datum.k=='box'"},{"calculate":"datum.g=='NSfull'?1:2","as":"x"}],"mark":{"type":"bar","size":27,"stroke":"#333333","strokeWidth":1.2},"encoding":{"y2":{"field":"v2"},"fill":{"field":"g","type":"nominal","scale":{"domain":["NSfull","NS124"],"range":["#E69F00","#56B4E9"]},"legend":null}}},
   {"data":{"name":"box"},"transform":[{"filter":"datum.p=='A1'&&datum.k=='med'"},{"calculate":"datum.g=='NSfull'?1:2","as":"x"}],"mark":{"type":"tick","orient":"horizontal","size":27,"thickness":2.5,"color":"#333333","opacity":1}},
   {"data":{"name":"sig"},"transform":[{"filter":"datum.p=='A1v'"},{"calculate":"datum.g=='NSfull'?1:2","as":"x"}],"mark":{"type":"text","fontSize":32,"fontWeight":"bold","baseline":"alphabetic","dy":19,"color":"black"},"encoding":{"text":{"field":"t"}}}
  ]},
  {"width":145,"height":369,"encoding":{"x":{"field":"x","type":"quantitative","title":null,"scale":{"domain":[0.4,2.6],"nice":false},"axis":{"values":[1,2],"labelExpr":"datum.value==1?'NSfull':'NS124'"}},"y":{"field":"v","type":"quantitative","title":null,"scale":{"domain":[2.715,4.97],"nice":false},"axis":{"values":[2.75,3,3.25,3.5,3.75,4,4.25,4.5,4.75],"labelExpr":"round(datum.value*4)%2==0?format(datum.value,'.1f'):''","tickOpacity":{"condition":{"test":"round(datum.value*4)%2==0","value":1},"value":0},"gridWidth":{"condition":{"test":"round(datum.value*4)%2==0","value":1.1},"value":0.55}}}},
   "layer":[
   {"data":{"name":"vio"},"transform":[{"filter":"datum.p=='A2'"},{"calculate":"(datum.g=='NSfull'?1:2)-datum.w","as":"x"},{"calculate":"(datum.g=='NSfull'?1:2)+datum.w","as":"x2"}],"mark":{"type":"area","orient":"horizontal","fill":"white","opacity":1,"strokeWidth":2.6,"strokeJoin":"round"},"encoding":{"x2":{"field":"x2"},"stroke":{"field":"g","type":"nominal","scale":{"domain":["NSfull","NS124"],"range":["#E69F00","#56B4E9"]},"legend":null}}},
   {"data":{"name":"box"},"transform":[{"filter":"datum.p=='A2'&&datum.k=='wh'"},{"calculate":"datum.g=='NSfull'?1:2","as":"x"}],"mark":{"type":"rule","color":"#333333","strokeWidth":1.1},"encoding":{"y2":{"field":"v2"}}},
   {"data":{"name":"box"},"transform":[{"filter":"datum.p=='A2'&&datum.k=='box'"},{"calculate":"datum.g=='NSfull'?1:2","as":"x"}],"mark":{"type":"bar","size":27,"stroke":"#333333","strokeWidth":1.2},"encoding":{"y2":{"field":"v2"},"fill":{"field":"g","type":"nominal","scale":{"domain":["NSfull","NS124"],"range":["#E69F00","#56B4E9"]},"legend":null}}},
   {"data":{"name":"box"},"transform":[{"filter":"datum.p=='A2'&&datum.k=='med'"},{"calculate":"datum.g=='NSfull'?1:2","as":"x"}],"mark":{"type":"tick","orient":"horizontal","size":27,"thickness":2.5,"color":"#333333","opacity":1}},
   {"data":{"name":"sig"},"transform":[{"filter":"datum.p=='A2v'"},{"calculate":"datum.g=='NSfull'?1:2","as":"x"}],"mark":{"type":"text","fontSize":32,"fontWeight":"bold","baseline":"alphabetic","dy":19,"color":"black"},"encoding":{"text":{"field":"t"}}}
  ]},
  {"width":145,"height":369,"encoding":{"x":{"field":"x","type":"quantitative","title":null,"scale":{"domain":[0.4,2.6],"nice":false},"axis":{"values":[1,2],"labelExpr":"datum.value==1?'NSfull':'NS124'"}},"y":{"field":"v","type":"quantitative","title":null,"scale":{"domain":[2.709,4.815],"nice":false},"axis":{"values":[2.75,3,3.25,3.5,3.75,4,4.25,4.5,4.75],"labelExpr":"round(datum.value*4)%2==0?format(datum.value,'.1f'):''","tickOpacity":{"condition":{"test":"round(datum.value*4)%2==0","value":1},"value":0},"gridWidth":{"condition":{"test":"round(datum.value*4)%2==0","value":1.1},"value":0.55}}}},
   "layer":[
   {"data":{"name":"vio"},"transform":[{"filter":"datum.p=='A3'"},{"calculate":"(datum.g=='NSfull'?1:2)-datum.w","as":"x"},{"calculate":"(datum.g=='NSfull'?1:2)+datum.w","as":"x2"}],"mark":{"type":"area","orient":"horizontal","fill":"white","opacity":1,"strokeWidth":2.6,"strokeJoin":"round"},"encoding":{"x2":{"field":"x2"},"stroke":{"field":"g","type":"nominal","scale":{"domain":["NSfull","NS124"],"range":["#E69F00","#56B4E9"]},"legend":null}}},
   {"data":{"name":"box"},"transform":[{"filter":"datum.p=='A3'&&datum.k=='wh'"},{"calculate":"datum.g=='NSfull'?1:2","as":"x"}],"mark":{"type":"rule","color":"#333333","strokeWidth":1.1},"encoding":{"y2":{"field":"v2"}}},
   {"data":{"name":"box"},"transform":[{"filter":"datum.p=='A3'&&datum.k=='box'"},{"calculate":"datum.g=='NSfull'?1:2","as":"x"}],"mark":{"type":"bar","size":27,"stroke":"#333333","strokeWidth":1.2},"encoding":{"y2":{"field":"v2"},"fill":{"field":"g","type":"nominal","scale":{"domain":["NSfull","NS124"],"range":["#E69F00","#56B4E9"]},"legend":null}}},
   {"data":{"name":"box"},"transform":[{"filter":"datum.p=='A3'&&datum.k=='med'"},{"calculate":"datum.g=='NSfull'?1:2","as":"x"}],"mark":{"type":"tick","orient":"horizontal","size":27,"thickness":2.5,"color":"#333333","opacity":1}}
  ]},
  {"width":145,"height":369,"encoding":{"x":{"field":"x","type":"quantitative","title":null,"scale":{"domain":[0.4,2.6],"nice":false},"axis":{"values":[1,2],"labelExpr":"datum.value==1?'NSfull':'NS124'"}},"y":{"field":"v","type":"quantitative","title":null,"scale":{"domain":[2.705,4.93],"nice":false},"axis":{"values":[2.75,3,3.25,3.5,3.75,4,4.25,4.5,4.75],"labelExpr":"round(datum.value*4)%2==0?format(datum.value,'.1f'):''","tickOpacity":{"condition":{"test":"round(datum.value*4)%2==0","value":1},"value":0},"gridWidth":{"condition":{"test":"round(datum.value*4)%2==0","value":1.1},"value":0.55}}}},
   "layer":[
   {"data":{"name":"vio"},"transform":[{"filter":"datum.p=='A4'"},{"calculate":"(datum.g=='NSfull'?1:2)-datum.w","as":"x"},{"calculate":"(datum.g=='NSfull'?1:2)+datum.w","as":"x2"}],"mark":{"type":"area","orient":"horizontal","fill":"white","opacity":1,"strokeWidth":2.6,"strokeJoin":"round"},"encoding":{"x2":{"field":"x2"},"stroke":{"field":"g","type":"nominal","scale":{"domain":["NSfull","NS124"],"range":["#E69F00","#56B4E9"]},"legend":null}}},
   {"data":{"name":"box"},"transform":[{"filter":"datum.p=='A4'&&datum.k=='wh'"},{"calculate":"datum.g=='NSfull'?1:2","as":"x"}],"mark":{"type":"rule","color":"#333333","strokeWidth":1.1},"encoding":{"y2":{"field":"v2"}}},
   {"data":{"name":"box"},"transform":[{"filter":"datum.p=='A4'&&datum.k=='box'"},{"calculate":"datum.g=='NSfull'?1:2","as":"x"}],"mark":{"type":"bar","size":27,"stroke":"#333333","strokeWidth":1.2},"encoding":{"y2":{"field":"v2"},"fill":{"field":"g","type":"nominal","scale":{"domain":["NSfull","NS124"],"range":["#E69F00","#56B4E9"]},"legend":null}}},
   {"data":{"name":"box"},"transform":[{"filter":"datum.p=='A4'&&datum.k=='med'"},{"calculate":"datum.g=='NSfull'?1:2","as":"x"}],"mark":{"type":"tick","orient":"horizontal","size":27,"thickness":2.5,"color":"#333333","opacity":1}}
  ]},
  {"width":145,"height":369,"encoding":{"x":{"field":"x","type":"quantitative","title":null,"scale":{"domain":[0.4,2.6],"nice":false},"axis":{"values":[1,2],"labelExpr":"datum.value==1?'NSfull':'NS124'"}},"y":{"field":"v","type":"quantitative","title":null,"scale":{"domain":[2.581,4.959],"nice":false},"axis":{"values":[2.75,3,3.25,3.5,3.75,4,4.25,4.5,4.75],"labelExpr":"round(datum.value*4)%2==0?format(datum.value,'.1f'):''","tickOpacity":{"condition":{"test":"round(datum.value*4)%2==0","value":1},"value":0},"gridWidth":{"condition":{"test":"round(datum.value*4)%2==0","value":1.1},"value":0.55}}}},
   "layer":[
   {"data":{"name":"vio"},"transform":[{"filter":"datum.p=='A5'"},{"calculate":"(datum.g=='NSfull'?1:2)-datum.w","as":"x"},{"calculate":"(datum.g=='NSfull'?1:2)+datum.w","as":"x2"}],"mark":{"type":"area","orient":"horizontal","fill":"white","opacity":1,"strokeWidth":2.6,"strokeJoin":"round"},"encoding":{"x2":{"field":"x2"},"stroke":{"field":"g","type":"nominal","scale":{"domain":["NSfull","NS124"],"range":["#E69F00","#56B4E9"]},"legend":null}}},
   {"data":{"name":"box"},"transform":[{"filter":"datum.p=='A5'&&datum.k=='wh'"},{"calculate":"datum.g=='NSfull'?1:2","as":"x"}],"mark":{"type":"rule","color":"#333333","strokeWidth":1.1},"encoding":{"y2":{"field":"v2"}}},
   {"data":{"name":"box"},"transform":[{"filter":"datum.p=='A5'&&datum.k=='box'"},{"calculate":"datum.g=='NSfull'?1:2","as":"x"}],"mark":{"type":"bar","size":27,"stroke":"#333333","strokeWidth":1.2},"encoding":{"y2":{"field":"v2"},"fill":{"field":"g","type":"nominal","scale":{"domain":["NSfull","NS124"],"range":["#E69F00","#56B4E9"]},"legend":null}}},
   {"data":{"name":"box"},"transform":[{"filter":"datum.p=='A5'&&datum.k=='med'"},{"calculate":"datum.g=='NSfull'?1:2","as":"x"}],"mark":{"type":"tick","orient":"horizontal","size":27,"thickness":2.5,"color":"#333333","opacity":1}}
  ]},
  {"width":145,"height":369,"encoding":{"x":{"field":"x","type":"quantitative","title":null,"scale":{"domain":[0.4,2.6],"nice":false},"axis":{"values":[1,2],"labelExpr":"datum.value==1?'NSfull':'NS124'"}},"y":{"field":"v","type":"quantitative","title":null,"scale":{"domain":[2.709,4.82],"nice":false},"axis":{"values":[2.75,3,3.25,3.5,3.75,4,4.25,4.5,4.75],"labelExpr":"round(datum.value*4)%2==0?format(datum.value,'.1f'):''","tickOpacity":{"condition":{"test":"round(datum.value*4)%2==0","value":1},"value":0},"gridWidth":{"condition":{"test":"round(datum.value*4)%2==0","value":1.1},"value":0.55}}}},
   "layer":[
   {"data":{"name":"vio"},"transform":[{"filter":"datum.p=='A6'"},{"calculate":"(datum.g=='NSfull'?1:2)-datum.w","as":"x"},{"calculate":"(datum.g=='NSfull'?1:2)+datum.w","as":"x2"}],"mark":{"type":"area","orient":"horizontal","fill":"white","opacity":1,"strokeWidth":2.6,"strokeJoin":"round"},"encoding":{"x2":{"field":"x2"},"stroke":{"field":"g","type":"nominal","scale":{"domain":["NSfull","NS124"],"range":["#E69F00","#56B4E9"]},"legend":null}}},
   {"data":{"name":"box"},"transform":[{"filter":"datum.p=='A6'&&datum.k=='wh'"},{"calculate":"datum.g=='NSfull'?1:2","as":"x"}],"mark":{"type":"rule","color":"#333333","strokeWidth":1.1},"encoding":{"y2":{"field":"v2"}}},
   {"data":{"name":"box"},"transform":[{"filter":"datum.p=='A6'&&datum.k=='box'"},{"calculate":"datum.g=='NSfull'?1:2","as":"x"}],"mark":{"type":"bar","size":27,"stroke":"#333333","strokeWidth":1.2},"encoding":{"y2":{"field":"v2"},"fill":{"field":"g","type":"nominal","scale":{"domain":["NSfull","NS124"],"range":["#E69F00","#56B4E9"]},"legend":null}}},
   {"data":{"name":"box"},"transform":[{"filter":"datum.p=='A6'&&datum.k=='med'"},{"calculate":"datum.g=='NSfull'?1:2","as":"x"}],"mark":{"type":"tick","orient":"horizontal","size":27,"thickness":2.5,"color":"#333333","opacity":1}}
  ]},
  {"width":145,"height":369,"encoding":{"x":{"field":"x","type":"quantitative","title":null,"scale":{"domain":[0.4,2.6],"nice":false},"axis":{"values":[1,2],"labelExpr":"datum.value==1?'NSfull':'NS124'"}},"y":{"field":"v","type":"quantitative","title":null,"scale":{"domain":[2.69,5.546],"nice":false},"axis":{"values":[2.75,3,3.25,3.5,3.75,4,4.25,4.5,4.75,5,5.25,5.5],"labelExpr":"round(datum.value*4)%2==0?format(datum.value,'.1f'):''","tickOpacity":{"condition":{"test":"round(datum.value*4)%2==0","value":1},"value":0},"gridWidth":{"condition":{"test":"round(datum.value*4)%2==0","value":1.1},"value":0.55}}}},
   "layer":[
   {"data":{"name":"vio"},"transform":[{"filter":"datum.p=='A7'"},{"calculate":"(datum.g=='NSfull'?1:2)-datum.w","as":"x"},{"calculate":"(datum.g=='NSfull'?1:2)+datum.w","as":"x2"}],"mark":{"type":"area","orient":"horizontal","fill":"white","opacity":1,"strokeWidth":2.6,"strokeJoin":"round"},"encoding":{"x2":{"field":"x2"},"stroke":{"field":"g","type":"nominal","scale":{"domain":["NSfull","NS124"],"range":["#E69F00","#56B4E9"]},"legend":null}}},
   {"data":{"name":"box"},"transform":[{"filter":"datum.p=='A7'&&datum.k=='wh'"},{"calculate":"datum.g=='NSfull'?1:2","as":"x"}],"mark":{"type":"rule","color":"#333333","strokeWidth":1.1},"encoding":{"y2":{"field":"v2"}}},
   {"data":{"name":"box"},"transform":[{"filter":"datum.p=='A7'&&datum.k=='box'"},{"calculate":"datum.g=='NSfull'?1:2","as":"x"}],"mark":{"type":"bar","size":27,"stroke":"#333333","strokeWidth":1.2},"encoding":{"y2":{"field":"v2"},"fill":{"field":"g","type":"nominal","scale":{"domain":["NSfull","NS124"],"range":["#E69F00","#56B4E9"]},"legend":null}}},
   {"data":{"name":"box"},"transform":[{"filter":"datum.p=='A7'&&datum.k=='med'"},{"calculate":"datum.g=='NSfull'?1:2","as":"x"}],"mark":{"type":"tick","orient":"horizontal","size":27,"thickness":2.5,"color":"#333333","opacity":1}}
  ]}
 ],"spacing":40,"bounds":"flush"}
 ]}]},
{"title":{"text":"B.","anchor":"start","fontSize":28,"offset":-35},
 "vconcat":[{"title":{"text":"IFNγ⁺IL2⁻TNFα⁺","fontSize":32,"anchor":"middle","dx":35,"offset":18},
 "spacing":14,
 "vconcat":[
 {"hconcat":[
  {"width":145,"height":155,"title":"NP (366-374)","encoding":{"x":{"field":"x","type":"quantitative","title":null,"scale":{"domain":[0.4,2.6],"nice":false},"axis":{"values":[1,2],"labels":false}},"y":{"field":"v","type":"quantitative","title":"Log10(IFNγ iMFI)","scale":{"domain":[4.709,5.277],"nice":false},"axis":{"values":[4.8,4.9,5.0,5.1,5.2],"labelExpr":"round(datum.value*10)%2==0?format(datum.value,'.1f'):''","tickOpacity":{"condition":{"test":"round(datum.value*10)%2==0","value":1},"value":0},"gridWidth":{"condition":{"test":"round(datum.value*10)%2==0","value":1.1},"value":0.55}}}},
   "layer":[
   {"data":{"name":"pts"},"transform":[{"filter":"datum.p=='B1'"},{"aggregate":[{"op":"mean","field":"v","as":"v"}],"groupby":["g"]},{"calculate":"datum.g=='NSfull'?1:2","as":"x"}],"mark":{"type":"tick","orient":"horizontal","size":33,"thickness":3.2,"color":"black","opacity":1}},
   {"data":{"name":"pts"},"transform":[{"filter":"datum.p=='B1'"},{"calculate":"(datum.g=='NSfull'?1:2)+datum.j","as":"x"}],"mark":{"type":"circle","size":125,"stroke":"black","strokeWidth":1.4,"opacity":1},"encoding":{"fill":{"field":"g","type":"nominal","scale":{"domain":["NSfull","NS124"],"range":["#E69F00","#56B4E9"]},"legend":null}}},
   {"data":{"name":"sig"},"transform":[{"filter":"datum.p=='B1'"},{"calculate":"datum.g=='NSfull'?1:2","as":"x"}],"mark":{"type":"text","fontSize":32,"fontWeight":"bold","baseline":"alphabetic","dy":19,"color":"black"},"encoding":{"text":{"field":"t"}}}
  ]},
  {"width":145,"height":155,"title":"NP (161-175)","encoding":{"x":{"field":"x","type":"quantitative","title":null,"scale":{"domain":[0.4,2.6],"nice":false},"axis":{"values":[1,2],"labels":false}},"y":{"field":"v","type":"quantitative","title":null,"scale":{"domain":[3.441,4.087],"nice":false},"axis":{"values":[3.5,3.6,3.7,3.8,3.9,4.0],"labelExpr":"round(datum.value*10)%2==0?format(datum.value,'.1f'):''","tickOpacity":{"condition":{"test":"round(datum.value*10)%2==0","value":1},"value":0},"gridWidth":{"condition":{"test":"round(datum.value*10)%2==0","value":1.1},"value":0.55}}}},
   "layer":[
   {"data":{"name":"pts"},"transform":[{"filter":"datum.p=='B2'"},{"aggregate":[{"op":"mean","field":"v","as":"v"}],"groupby":["g"]},{"calculate":"datum.g=='NSfull'?1:2","as":"x"}],"mark":{"type":"tick","orient":"horizontal","size":33,"thickness":3.2,"color":"black","opacity":1}},
   {"data":{"name":"pts"},"transform":[{"filter":"datum.p=='B2'"},{"calculate":"(datum.g=='NSfull'?1:2)+datum.j","as":"x"}],"mark":{"type":"circle","size":125,"stroke":"black","strokeWidth":1.4,"opacity":1},"encoding":{"fill":{"field":"g","type":"nominal","scale":{"domain":["NSfull","NS124"],"range":["#E69F00","#56B4E9"]},"legend":null}}}
  ]},
  {"width":145,"height":155,"title":"NP (196-210)","encoding":{"x":{"field":"x","type":"quantitative","title":null,"scale":{"domain":[0.4,2.6],"nice":false},"axis":{"values":[1,2],"labels":false}},"y":{"field":"v","type":"quantitative","title":null,"scale":{"domain":[3.528,4.07],"nice":false},"axis":{"values":[3.6,3.7,3.8,3.9,4.0],"labelExpr":"round(datum.value*10)%2==0?format(datum.value,'.1f'):''","tickOpacity":{"condition":{"test":"round(datum.value*10)%2==0","value":1},"value":0},"gridWidth":{"condition":{"test":"round(datum.value*10)%2==0","value":1.1},"value":0.55}}}},
   "layer":[
   {"data":{"name":"pts"},"transform":[{"filter":"datum.p=='B3'"},{"aggregate":[{"op":"mean","field":"v","as":"v"}],"groupby":["g"]},{"calculate":"datum.g=='NSfull'?1:2","as":"x"}],"mark":{"type":"tick","orient":"horizontal","size":33,"thickness":3.2,"color":"black","opacity":1}},
   {"data":{"name":"pts"},"transform":[{"filter":"datum.p=='B3'"},{"calculate":"(datum.g=='NSfull'?1:2)+datum.j","as":"x"}],"mark":{"type":"circle","size":125,"stroke":"black","strokeWidth":1.4,"opacity":1},"encoding":{"fill":{"field":"g","type":"nominal","scale":{"domain":["NSfull","NS124"],"range":["#E69F00","#56B4E9"]},"legend":null}}}
  ]},
  {"width":145,"height":155,"title":"HA (474-483)","encoding":{"x":{"field":"x","type":"quantitative","title":null,"scale":{"domain":[0.4,2.6],"nice":false},"axis":{"values":[1,2],"labels":false}},"y":{"field":"v","type":"quantitative","title":null,"scale":{"domain":[3.4725,4.156],"nice":false},"axis":{"values":[3.5,3.6,3.7,3.8,3.9,4.0,4.1],"labelExpr":"round(datum.value*10)%2==0?format(datum.value,'.1f'):''","tickOpacity":{"condition":{"test":"round(datum.value*10)%2==0","value":1},"value":0},"gridWidth":{"condition":{"test":"round(datum.value*10)%2==0","value":1.1},"value":0.55}}}},
   "layer":[
   {"data":{"name":"pts"},"transform":[{"filter":"datum.p=='B4'"},{"aggregate":[{"op":"mean","field":"v","as":"v"}],"groupby":["g"]},{"calculate":"datum.g=='NSfull'?1:2","as":"x"}],"mark":{"type":"tick","orient":"horizontal","size":33,"thickness":3.2,"color":"black","opacity":1}},
   {"data":{"name":"pts"},"transform":[{"filter":"datum.p=='B4'"},{"calculate":"(datum.g=='NSfull'?1:2)+datum.j","as":"x"}],"mark":{"type":"circle","size":125,"stroke":"black","strokeWidth":1.4,"opacity":1},"encoding":{"fill":{"field":"g","type":"nominal","scale":{"domain":["NSfull","NS124"],"range":["#E69F00","#56B4E9"]},"legend":null}}}
  ]},
  {"width":145,"height":155,"title":"HA (323-337)","encoding":{"x":{"field":"x","type":"quantitative","title":null,"scale":{"domain":[0.4,2.6],"nice":false},"axis":{"values":[1,2],"labels":false}},"y":{"field":"v","type":"quantitative","title":null,"scale":{"domain":[3.477,4.011],"nice":false},"axis":{"values":[3.5,3.6,3.7,3.8,3.9,4.0],"labelExpr":"round(datum.value*10)%2==1?format(datum.value,'.1f'):''","tickOpacity":{"condition":{"test":"round(datum.value*10)%2==1","value":1},"value":0},"gridWidth":{"condition":{"test":"round(datum.value*10)%2==1","value":1.1},"value":0.55}}}},
   "layer":[
   {"data":{"name":"pts"},"transform":[{"filter":"datum.p=='B5'"},{"aggregate":[{"op":"mean","field":"v","as":"v"}],"groupby":["g"]},{"calculate":"datum.g=='NSfull'?1:2","as":"x"}],"mark":{"type":"tick","orient":"horizontal","size":33,"thickness":3.2,"color":"black","opacity":1}},
   {"data":{"name":"pts"},"transform":[{"filter":"datum.p=='B5'"},{"calculate":"(datum.g=='NSfull'?1:2)+datum.j","as":"x"}],"mark":{"type":"circle","size":125,"stroke":"black","strokeWidth":1.4,"opacity":1},"encoding":{"fill":{"field":"g","type":"nominal","scale":{"domain":["NSfull","NS124"],"range":["#E69F00","#56B4E9"]},"legend":null}}},
   {"data":{"name":"sig"},"transform":[{"filter":"datum.p=='B5'"},{"calculate":"datum.g=='NSfull'?1:2","as":"x"}],"mark":{"type":"text","fontSize":32,"fontWeight":"bold","baseline":"alphabetic","dy":19,"color":"black"},"encoding":{"text":{"field":"t"}}}
  ]},
  {"width":145,"height":155,"title":"NA (427-433)","encoding":{"x":{"field":"x","type":"quantitative","title":null,"scale":{"domain":[0.4,2.6],"nice":false},"axis":{"values":[1,2],"labels":false}},"y":{"field":"v","type":"quantitative","title":null,"scale":{"domain":[3.462,4.106],"nice":false},"axis":{"values":[3.5,3.6,3.7,3.8,3.9,4.0,4.1],"labelExpr":"round(datum.value*10)%2==0?format(datum.value,'.1f'):''","tickOpacity":{"condition":{"test":"round(datum.value*10)%2==0","value":1},"value":0},"gridWidth":{"condition":{"test":"round(datum.value*10)%2==0","value":1.1},"value":0.55}}}},
   "layer":[
   {"data":{"name":"pts"},"transform":[{"filter":"datum.p=='B6'"},{"aggregate":[{"op":"mean","field":"v","as":"v"}],"groupby":["g"]},{"calculate":"datum.g=='NSfull'?1:2","as":"x"}],"mark":{"type":"tick","orient":"horizontal","size":33,"thickness":3.2,"color":"black","opacity":1}},
   {"data":{"name":"pts"},"transform":[{"filter":"datum.p=='B6'"},{"calculate":"(datum.g=='NSfull'?1:2)+datum.j","as":"x"}],"mark":{"type":"circle","size":125,"stroke":"black","strokeWidth":1.4,"opacity":1},"encoding":{"fill":{"field":"g","type":"nominal","scale":{"domain":["NSfull","NS124"],"range":["#E69F00","#56B4E9"]},"legend":null}}}
  ]},
  {"width":145,"height":155,"title":"NS1 (108-124)","encoding":{"x":{"field":"x","type":"quantitative","title":null,"scale":{"domain":[0.4,2.6],"nice":false},"axis":{"values":[1,2],"labels":false}},"y":{"field":"v","type":"quantitative","title":null,"scale":{"domain":[3.273,3.714],"nice":false},"axis":{"values":[3.3,3.4,3.5,3.6,3.7],"labelExpr":"round(datum.value*10)%2==1?format(datum.value,'.1f'):''","tickOpacity":{"condition":{"test":"round(datum.value*10)%2==1","value":1},"value":0},"gridWidth":{"condition":{"test":"round(datum.value*10)%2==1","value":1.1},"value":0.55}}}},
   "layer":[
   {"data":{"name":"pts"},"transform":[{"filter":"datum.p=='B7'"},{"aggregate":[{"op":"mean","field":"v","as":"v"}],"groupby":["g"]},{"calculate":"datum.g=='NSfull'?1:2","as":"x"}],"mark":{"type":"tick","orient":"horizontal","size":33,"thickness":3.2,"color":"black","opacity":1}},
   {"data":{"name":"pts"},"transform":[{"filter":"datum.p=='B7'"},{"calculate":"(datum.g=='NSfull'?1:2)+datum.j","as":"x"}],"mark":{"type":"circle","size":125,"stroke":"black","strokeWidth":1.4,"opacity":1},"encoding":{"fill":{"field":"g","type":"nominal","scale":{"domain":["NSfull","NS124"],"range":["#E69F00","#56B4E9"]},"legend":null}}},
   {"data":{"name":"sig"},"transform":[{"filter":"datum.p=='B7'"},{"calculate":"datum.g=='NSfull'?1:2","as":"x"}],"mark":{"type":"text","fontSize":32,"fontWeight":"bold","baseline":"alphabetic","dy":19,"color":"black"},"encoding":{"text":{"field":"t"}}}
  ]}
 ],"spacing":40,"bounds":"flush"},
 {"hconcat":[
  {"width":145,"height":369,"encoding":{"x":{"field":"x","type":"quantitative","title":null,"scale":{"domain":[0.4,2.6],"nice":false},"axis":{"values":[1,2],"labelExpr":"datum.value==1?'NSfull':'NS124'"}},"y":{"field":"v","type":"quantitative","title":"Log10(IFNγ FI)","scale":{"domain":[3.193,5.807],"nice":false},"axis":{"values":[3.25,3.5,3.75,4,4.25,4.5,4.75,5,5.25,5.5,5.75],"labelExpr":"round(datum.value*4)%2==0?format(datum.value,'.1f'):''","tickOpacity":{"condition":{"test":"round(datum.value*4)%2==0","value":1},"value":0},"gridWidth":{"condition":{"test":"round(datum.value*4)%2==0","value":1.1},"value":0.55}}}},
   "layer":[
   {"data":{"name":"vio"},"transform":[{"filter":"datum.p=='B1'"},{"calculate":"(datum.g=='NSfull'?1:2)-datum.w","as":"x"},{"calculate":"(datum.g=='NSfull'?1:2)+datum.w","as":"x2"}],"mark":{"type":"area","orient":"horizontal","fill":"white","opacity":1,"strokeWidth":2.6,"strokeJoin":"round"},"encoding":{"x2":{"field":"x2"},"stroke":{"field":"g","type":"nominal","scale":{"domain":["NSfull","NS124"],"range":["#E69F00","#56B4E9"]},"legend":null}}},
   {"data":{"name":"box"},"transform":[{"filter":"datum.p=='B1'&&datum.k=='wh'"},{"calculate":"datum.g=='NSfull'?1:2","as":"x"}],"mark":{"type":"rule","color":"#333333","strokeWidth":1.1},"encoding":{"y2":{"field":"v2"}}},
   {"data":{"name":"box"},"transform":[{"filter":"datum.p=='B1'&&datum.k=='box'"},{"calculate":"datum.g=='NSfull'?1:2","as":"x"}],"mark":{"type":"bar","size":27,"stroke":"#333333","strokeWidth":1.2},"encoding":{"y2":{"field":"v2"},"fill":{"field":"g","type":"nominal","scale":{"domain":["NSfull","NS124"],"range":["#E69F00","#56B4E9"]},"legend":null}}},
   {"data":{"name":"box"},"transform":[{"filter":"datum.p=='B1'&&datum.k=='med'"},{"calculate":"datum.g=='NSfull'?1:2","as":"x"}],"mark":{"type":"tick","orient":"horizontal","size":27,"thickness":2.5,"color":"#333333","opacity":1}},
   {"data":{"name":"sig"},"transform":[{"filter":"datum.p=='B1v'"},{"calculate":"datum.g=='NSfull'?1:2","as":"x"}],"mark":{"type":"text","fontSize":32,"fontWeight":"bold","baseline":"alphabetic","dy":19,"color":"black"},"encoding":{"text":{"field":"t"}}}
  ]},
  {"width":145,"height":369,"encoding":{"x":{"field":"x","type":"quantitative","title":null,"scale":{"domain":[0.4,2.6],"nice":false},"axis":{"values":[1,2],"labelExpr":"datum.value==1?'NSfull':'NS124'"}},"y":{"field":"v","type":"quantitative","title":null,"scale":{"domain":[2.707,4.743],"nice":false},"axis":{"values":[2.75,3,3.25,3.5,3.75,4,4.25,4.5],"labelExpr":"round(datum.value*4)%2==0?format(datum.value,'.1f'):''","tickOpacity":{"condition":{"test":"round(datum.value*4)%2==0","value":1},"value":0},"gridWidth":{"condition":{"test":"round(datum.value*4)%2==0","value":1.1},"value":0.55}}}},
   "layer":[
   {"data":{"name":"vio"},"transform":[{"filter":"datum.p=='B2'"},{"calculate":"(datum.g=='NSfull'?1:2)-datum.w","as":"x"},{"calculate":"(datum.g=='NSfull'?1:2)+datum.w","as":"x2"}],"mark":{"type":"area","orient":"horizontal","fill":"white","opacity":1,"strokeWidth":2.6,"strokeJoin":"round"},"encoding":{"x2":{"field":"x2"},"stroke":{"field":"g","type":"nominal","scale":{"domain":["NSfull","NS124"],"range":["#E69F00","#56B4E9"]},"legend":null}}},
   {"data":{"name":"box"},"transform":[{"filter":"datum.p=='B2'&&datum.k=='wh'"},{"calculate":"datum.g=='NSfull'?1:2","as":"x"}],"mark":{"type":"rule","color":"#333333","strokeWidth":1.1},"encoding":{"y2":{"field":"v2"}}},
   {"data":{"name":"box"},"transform":[{"filter":"datum.p=='B2'&&datum.k=='box'"},{"calculate":"datum.g=='NSfull'?1:2","as":"x"}],"mark":{"type":"bar","size":27,"stroke":"#333333","strokeWidth":1.2},"encoding":{"y2":{"field":"v2"},"fill":{"field":"g","type":"nominal","scale":{"domain":["NSfull","NS124"],"range":["#E69F00","#56B4E9"]},"legend":null}}},
   {"data":{"name":"box"},"transform":[{"filter":"datum.p=='B2'&&datum.k=='med'"},{"calculate":"datum.g=='NSfull'?1:2","as":"x"}],"mark":{"type":"tick","orient":"horizontal","size":27,"thickness":2.5,"color":"#333333","opacity":1}}
  ]},
  {"width":145,"height":369,"encoding":{"x":{"field":"x","type":"quantitative","title":null,"scale":{"domain":[0.4,2.6],"nice":false},"axis":{"values":[1,2],"labelExpr":"datum.value==1?'NSfull':'NS124'"}},"y":{"field":"v","type":"quantitative","title":null,"scale":{"domain":[2.694,5.08],"nice":false},"axis":{"values":[2.75,3,3.25,3.5,3.75,4,4.25,4.5,4.75,5],"labelExpr":"round(datum.value*4)%2==0?format(datum.value,'.1f'):''","tickOpacity":{"condition":{"test":"round(datum.value*4)%2==0","value":1},"value":0},"gridWidth":{"condition":{"test":"round(datum.value*4)%2==0","value":1.1},"value":0.55}}}},
   "layer":[
   {"data":{"name":"vio"},"transform":[{"filter":"datum.p=='B3'"},{"calculate":"(datum.g=='NSfull'?1:2)-datum.w","as":"x"},{"calculate":"(datum.g=='NSfull'?1:2)+datum.w","as":"x2"}],"mark":{"type":"area","orient":"horizontal","fill":"white","opacity":1,"strokeWidth":2.6,"strokeJoin":"round"},"encoding":{"x2":{"field":"x2"},"stroke":{"field":"g","type":"nominal","scale":{"domain":["NSfull","NS124"],"range":["#E69F00","#56B4E9"]},"legend":null}}},
   {"data":{"name":"box"},"transform":[{"filter":"datum.p=='B3'&&datum.k=='wh'"},{"calculate":"datum.g=='NSfull'?1:2","as":"x"}],"mark":{"type":"rule","color":"#333333","strokeWidth":1.1},"encoding":{"y2":{"field":"v2"}}},
   {"data":{"name":"box"},"transform":[{"filter":"datum.p=='B3'&&datum.k=='box'"},{"calculate":"datum.g=='NSfull'?1:2","as":"x"}],"mark":{"type":"bar","size":27,"stroke":"#333333","strokeWidth":1.2},"encoding":{"y2":{"field":"v2"},"fill":{"field":"g","type":"nominal","scale":{"domain":["NSfull","NS124"],"range":["#E69F00","#56B4E9"]},"legend":null}}},
   {"data":{"name":"box"},"transform":[{"filter":"datum.p=='B3'&&datum.k=='med'"},{"calculate":"datum.g=='NSfull'?1:2","as":"x"}],"mark":{"type":"tick","orient":"horizontal","size":27,"thickness":2.5,"color":"#333333","opacity":1}}
  ]},
  {"width":145,"height":369,"encoding":{"x":{"field":"x","type":"quantitative","title":null,"scale":{"domain":[0.4,2.6],"nice":false},"axis":{"values":[1,2],"labelExpr":"datum.value==1?'NSfull':'NS124'"}},"y":{"field":"v","type":"quantitative","title":null,"scale":{"domain":[2.689,5.149],"nice":false},"axis":{"values":[2.75,3,3.25,3.5,3.75,4,4.25,4.5,4.75,5],"labelExpr":"round(datum.value*4)%2==0?format(datum.value,'.1f'):''","tickOpacity":{"condition":{"test":"round(datum.value*4)%2==0","value":1},"value":0},"gridWidth":{"condition":{"test":"round(datum.value*4)%2==0","value":1.1},"value":0.55}}}},
   "layer":[
   {"data":{"name":"vio"},"transform":[{"filter":"datum.p=='B4'"},{"calculate":"(datum.g=='NSfull'?1:2)-datum.w","as":"x"},{"calculate":"(datum.g=='NSfull'?1:2)+datum.w","as":"x2"}],"mark":{"type":"area","orient":"horizontal","fill":"white","opacity":1,"strokeWidth":2.6,"strokeJoin":"round"},"encoding":{"x2":{"field":"x2"},"stroke":{"field":"g","type":"nominal","scale":{"domain":["NSfull","NS124"],"range":["#E69F00","#56B4E9"]},"legend":null}}},
   {"data":{"name":"box"},"transform":[{"filter":"datum.p=='B4'&&datum.k=='wh'"},{"calculate":"datum.g=='NSfull'?1:2","as":"x"}],"mark":{"type":"rule","color":"#333333","strokeWidth":1.1},"encoding":{"y2":{"field":"v2"}}},
   {"data":{"name":"box"},"transform":[{"filter":"datum.p=='B4'&&datum.k=='box'"},{"calculate":"datum.g=='NSfull'?1:2","as":"x"}],"mark":{"type":"bar","size":27,"stroke":"#333333","strokeWidth":1.2},"encoding":{"y2":{"field":"v2"},"fill":{"field":"g","type":"nominal","scale":{"domain":["NSfull","NS124"],"range":["#E69F00","#56B4E9"]},"legend":null}}},
   {"data":{"name":"box"},"transform":[{"filter":"datum.p=='B4'&&datum.k=='med'"},{"calculate":"datum.g=='NSfull'?1:2","as":"x"}],"mark":{"type":"tick","orient":"horizontal","size":27,"thickness":2.5,"color":"#333333","opacity":1}},
   {"data":{"name":"sig"},"transform":[{"filter":"datum.p=='B4v'"},{"calculate":"datum.g=='NSfull'?1:2","as":"x"}],"mark":{"type":"text","fontSize":32,"fontWeight":"bold","baseline":"alphabetic","dy":19,"color":"black"},"encoding":{"text":{"field":"t"}}}
  ]},
  {"width":145,"height":369,"encoding":{"x":{"field":"x","type":"quantitative","title":null,"scale":{"domain":[0.4,2.6],"nice":false},"axis":{"values":[1,2],"labelExpr":"datum.value==1?'NSfull':'NS124'"}},"y":{"field":"v","type":"quantitative","title":null,"scale":{"domain":[2.589,4.755],"nice":false},"axis":{"values":[2.75,3,3.25,3.5,3.75,4,4.25,4.5,4.75],"labelExpr":"round(datum.value*4)%2==0?format(datum.value,'.1f'):''","tickOpacity":{"condition":{"test":"round(datum.value*4)%2==0","value":1},"value":0},"gridWidth":{"condition":{"test":"round(datum.value*4)%2==0","value":1.1},"value":0.55}}}},
   "layer":[
   {"data":{"name":"vio"},"transform":[{"filter":"datum.p=='B5'"},{"calculate":"(datum.g=='NSfull'?1:2)-datum.w","as":"x"},{"calculate":"(datum.g=='NSfull'?1:2)+datum.w","as":"x2"}],"mark":{"type":"area","orient":"horizontal","fill":"white","opacity":1,"strokeWidth":2.6,"strokeJoin":"round"},"encoding":{"x2":{"field":"x2"},"stroke":{"field":"g","type":"nominal","scale":{"domain":["NSfull","NS124"],"range":["#E69F00","#56B4E9"]},"legend":null}}},
   {"data":{"name":"box"},"transform":[{"filter":"datum.p=='B5'&&datum.k=='wh'"},{"calculate":"datum.g=='NSfull'?1:2","as":"x"}],"mark":{"type":"rule","color":"#333333","strokeWidth":1.1},"encoding":{"y2":{"field":"v2"}}},
   {"data":{"name":"box"},"transform":[{"filter":"datum.p=='B5'&&datum.k=='box'"},{"calculate":"datum.g=='NSfull'?1:2","as":"x"}],"mark":{"type":"bar","size":27,"stroke":"#333333","strokeWidth":1.2},"encoding":{"y2":{"field":"v2"},"fill":{"field":"g","type":"nominal","scale":{"domain":["NSfull","NS124"],"range":["#E69F00","#56B4E9"]},"legend":null}}},
   {"data":{"name":"box"},"transform":[{"filter":"datum.p=='B5'&&datum.k=='med'"},{"calculate":"datum.g=='NSfull'?1:2","as":"x"}],"mark":{"type":"tick","orient":"horizontal","size":27,"thickness":2.5,"color":"#333333","opacity":1}},
   {"data":{"name":"sig"},"transform":[{"filter":"datum.p=='B5v'"},{"calculate":"datum.g=='NSfull'?1:2","as":"x"}],"mark":{"type":"text","fontSize":32,"fontWeight":"bold","baseline":"alphabetic","dy":19,"color":"black"},"encoding":{"text":{"field":"t"}}}
  ]},
  {"width":145,"height":369,"encoding":{"x":{"field":"x","type":"quantitative","title":null,"scale":{"domain":[0.4,2.6],"nice":false},"axis":{"values":[1,2],"labelExpr":"datum.value==1?'NSfull':'NS124'"}},"y":{"field":"v","type":"quantitative","title":null,"scale":{"domain":[2.714,4.634],"nice":false},"axis":{"values":[2.75,3,3.25,3.5,3.75,4,4.25,4.5],"labelExpr":"round(datum.value*4)%2==0?format(datum.value,'.1f'):''","tickOpacity":{"condition":{"test":"round(datum.value*4)%2==0","value":1},"value":0},"gridWidth":{"condition":{"test":"round(datum.value*4)%2==0","value":1.1},"value":0.55}}}},
   "layer":[
   {"data":{"name":"vio"},"transform":[{"filter":"datum.p=='B6'"},{"calculate":"(datum.g=='NSfull'?1:2)-datum.w","as":"x"},{"calculate":"(datum.g=='NSfull'?1:2)+datum.w","as":"x2"}],"mark":{"type":"area","orient":"horizontal","fill":"white","opacity":1,"strokeWidth":2.6,"strokeJoin":"round"},"encoding":{"x2":{"field":"x2"},"stroke":{"field":"g","type":"nominal","scale":{"domain":["NSfull","NS124"],"range":["#E69F00","#56B4E9"]},"legend":null}}},
   {"data":{"name":"box"},"transform":[{"filter":"datum.p=='B6'&&datum.k=='wh'"},{"calculate":"datum.g=='NSfull'?1:2","as":"x"}],"mark":{"type":"rule","color":"#333333","strokeWidth":1.1},"encoding":{"y2":{"field":"v2"}}},
   {"data":{"name":"box"},"transform":[{"filter":"datum.p=='B6'&&datum.k=='box'"},{"calculate":"datum.g=='NSfull'?1:2","as":"x"}],"mark":{"type":"bar","size":27,"stroke":"#333333","strokeWidth":1.2},"encoding":{"y2":{"field":"v2"},"fill":{"field":"g","type":"nominal","scale":{"domain":["NSfull","NS124"],"range":["#E69F00","#56B4E9"]},"legend":null}}},
   {"data":{"name":"box"},"transform":[{"filter":"datum.p=='B6'&&datum.k=='med'"},{"calculate":"datum.g=='NSfull'?1:2","as":"x"}],"mark":{"type":"tick","orient":"horizontal","size":27,"thickness":2.5,"color":"#333333","opacity":1}}
  ]},
  {"width":145,"height":369,"encoding":{"x":{"field":"x","type":"quantitative","title":null,"scale":{"domain":[0.4,2.6],"nice":false},"axis":{"values":[1,2],"labelExpr":"datum.value==1?'NSfull':'NS124'"}},"y":{"field":"v","type":"quantitative","title":null,"scale":{"domain":[2.715,4.687],"nice":false},"axis":{"values":[2.75,3,3.25,3.5,3.75,4,4.25,4.5],"labelExpr":"round(datum.value*4)%2==0?format(datum.value,'.1f'):''","tickOpacity":{"condition":{"test":"round(datum.value*4)%2==0","value":1},"value":0},"gridWidth":{"condition":{"test":"round(datum.value*4)%2==0","value":1.1},"value":0.55}}}},
   "layer":[
   {"data":{"name":"vio"},"transform":[{"filter":"datum.p=='B7'"},{"calculate":"(datum.g=='NSfull'?1:2)-datum.w","as":"x"},{"calculate":"(datum.g=='NSfull'?1:2)+datum.w","as":"x2"}],"mark":{"type":"area","orient":"horizontal","fill":"white","opacity":1,"strokeWidth":2.6,"strokeJoin":"round"},"encoding":{"x2":{"field":"x2"},"stroke":{"field":"g","type":"nominal","scale":{"domain":["NSfull","NS124"],"range":["#E69F00","#56B4E9"]},"legend":null}}},
   {"data":{"name":"box"},"transform":[{"filter":"datum.p=='B7'&&datum.k=='wh'"},{"calculate":"datum.g=='NSfull'?1:2","as":"x"}],"mark":{"type":"rule","color":"#333333","strokeWidth":1.1},"encoding":{"y2":{"field":"v2"}}},
   {"data":{"name":"box"},"transform":[{"filter":"datum.p=='B7'&&datum.k=='box'"},{"calculate":"datum.g=='NSfull'?1:2","as":"x"}],"mark":{"type":"bar","size":27,"stroke":"#333333","strokeWidth":1.2},"encoding":{"y2":{"field":"v2"},"fill":{"field":"g","type":"nominal","scale":{"domain":["NSfull","NS124"],"range":["#E69F00","#56B4E9"]},"legend":null}}},
   {"data":{"name":"box"},"transform":[{"filter":"datum.p=='B7'&&datum.k=='med'"},{"calculate":"datum.g=='NSfull'?1:2","as":"x"}],"mark":{"type":"tick","orient":"horizontal","size":27,"thickness":2.5,"color":"#333333","opacity":1}}
  ]}
 ],"spacing":40,"bounds":"flush"}
 ]}]}
]
}
